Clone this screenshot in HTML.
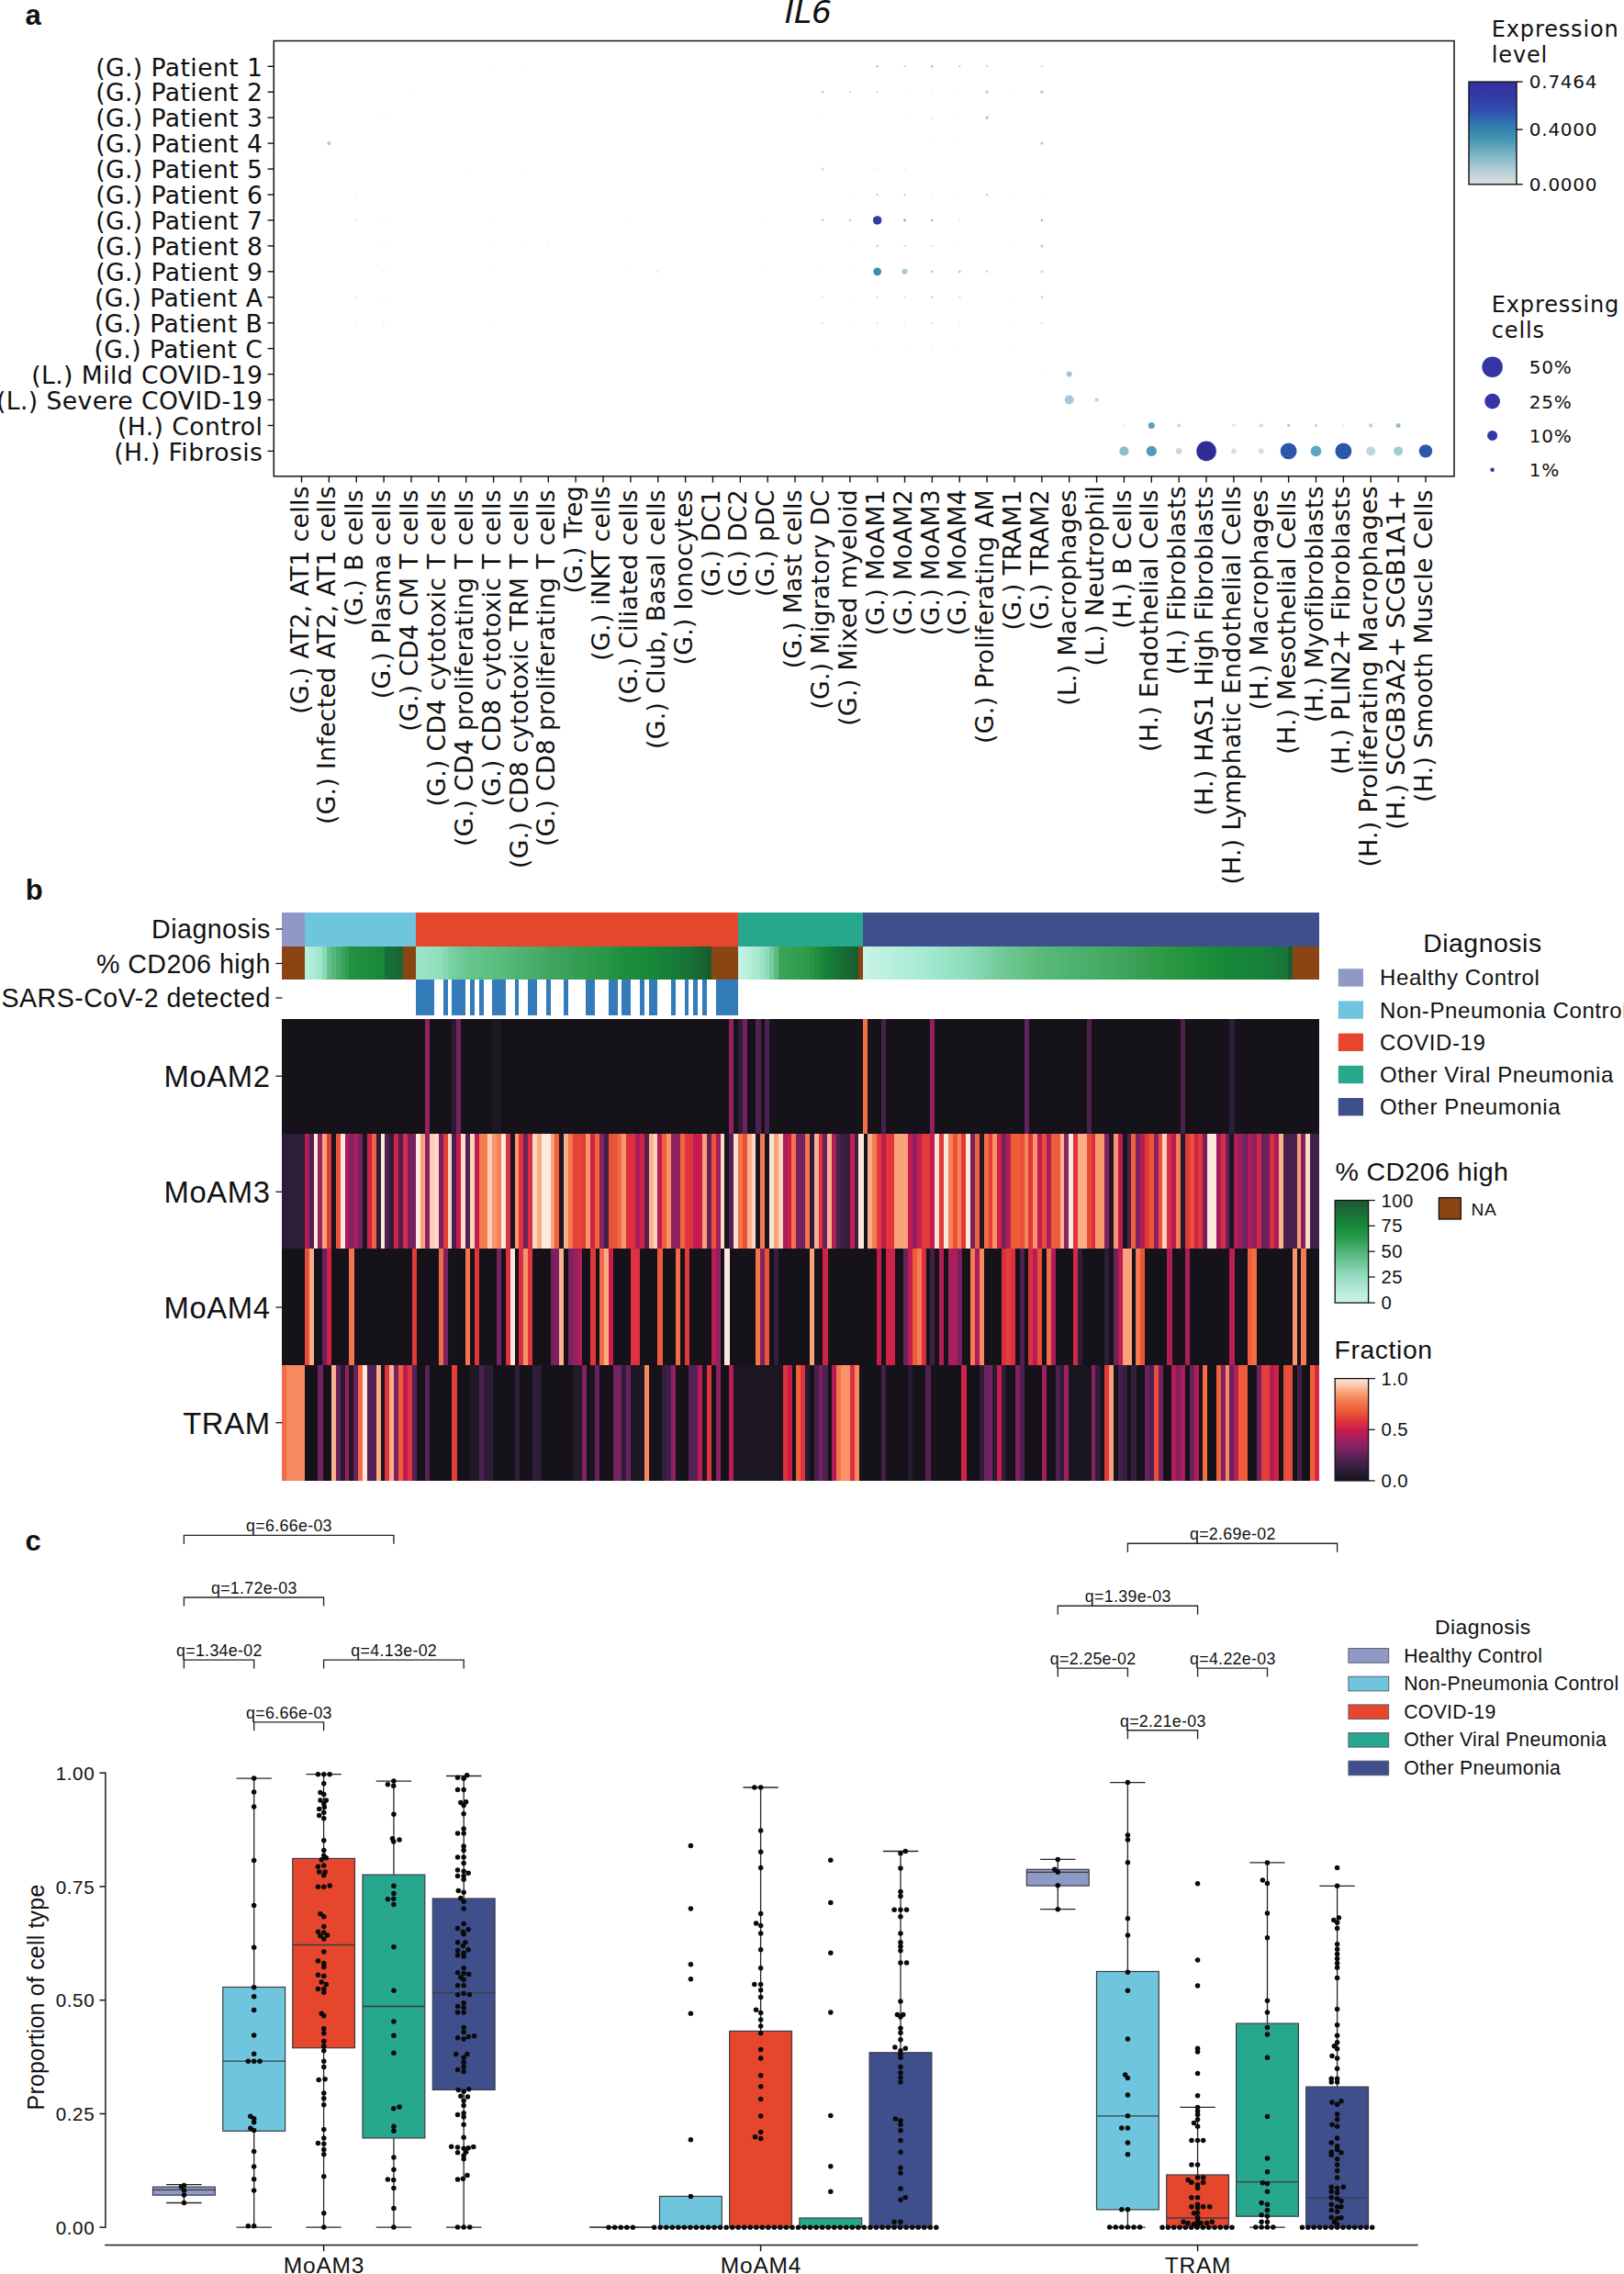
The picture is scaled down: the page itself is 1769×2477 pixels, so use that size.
<!DOCTYPE html>
<html><head><meta charset="utf-8"><title>Figure</title>
<style>
html,body{margin:0;padding:0;background:#fff;}
svg{display:block;}
text{fill:#111;}
</style></head><body>
<svg width="1769" height="2477" viewBox="0 0 1769 2477">
<rect x="0" y="0" width="1769" height="2477" fill="#ffffff"/>
<text x="27.50" y="26.60" font-size="31" font-family="Liberation Sans, Arial, sans-serif" text-anchor="start" font-weight="bold">a</text>
<text x="880.40" y="24.70" font-size="34.5" font-family="DejaVu Sans, Liberation Sans, sans-serif" text-anchor="middle" font-style="italic">IL6</text>
<rect x="298.3" y="44.5" width="1285.7" height="474.29999999999995" fill="none" stroke="#111" stroke-width="1.5"/>
<line x1="291.50" y1="72.30" x2="298.30" y2="72.30" stroke="#111" stroke-width="1.4" />
<text x="286.30" y="82.50" font-size="26.6" font-family="DejaVu Sans, Liberation Sans, sans-serif" text-anchor="end" letter-spacing="0.42">(G.) Patient 1</text>
<line x1="291.50" y1="100.24" x2="298.30" y2="100.24" stroke="#111" stroke-width="1.4" />
<text x="286.30" y="110.44" font-size="26.6" font-family="DejaVu Sans, Liberation Sans, sans-serif" text-anchor="end" letter-spacing="0.42">(G.) Patient 2</text>
<line x1="291.50" y1="128.18" x2="298.30" y2="128.18" stroke="#111" stroke-width="1.4" />
<text x="286.30" y="138.38" font-size="26.6" font-family="DejaVu Sans, Liberation Sans, sans-serif" text-anchor="end" letter-spacing="0.42">(G.) Patient 3</text>
<line x1="291.50" y1="156.12" x2="298.30" y2="156.12" stroke="#111" stroke-width="1.4" />
<text x="286.30" y="166.32" font-size="26.6" font-family="DejaVu Sans, Liberation Sans, sans-serif" text-anchor="end" letter-spacing="0.42">(G.) Patient 4</text>
<line x1="291.50" y1="184.06" x2="298.30" y2="184.06" stroke="#111" stroke-width="1.4" />
<text x="286.30" y="194.26" font-size="26.6" font-family="DejaVu Sans, Liberation Sans, sans-serif" text-anchor="end" letter-spacing="0.42">(G.) Patient 5</text>
<line x1="291.50" y1="212.00" x2="298.30" y2="212.00" stroke="#111" stroke-width="1.4" />
<text x="286.30" y="222.20" font-size="26.6" font-family="DejaVu Sans, Liberation Sans, sans-serif" text-anchor="end" letter-spacing="0.42">(G.) Patient 6</text>
<line x1="291.50" y1="239.94" x2="298.30" y2="239.94" stroke="#111" stroke-width="1.4" />
<text x="286.30" y="250.14" font-size="26.6" font-family="DejaVu Sans, Liberation Sans, sans-serif" text-anchor="end" letter-spacing="0.42">(G.) Patient 7</text>
<line x1="291.50" y1="267.88" x2="298.30" y2="267.88" stroke="#111" stroke-width="1.4" />
<text x="286.30" y="278.08" font-size="26.6" font-family="DejaVu Sans, Liberation Sans, sans-serif" text-anchor="end" letter-spacing="0.42">(G.) Patient 8</text>
<line x1="291.50" y1="295.82" x2="298.30" y2="295.82" stroke="#111" stroke-width="1.4" />
<text x="286.30" y="306.02" font-size="26.6" font-family="DejaVu Sans, Liberation Sans, sans-serif" text-anchor="end" letter-spacing="0.42">(G.) Patient 9</text>
<line x1="291.50" y1="323.76" x2="298.30" y2="323.76" stroke="#111" stroke-width="1.4" />
<text x="286.30" y="333.96" font-size="26.6" font-family="DejaVu Sans, Liberation Sans, sans-serif" text-anchor="end" letter-spacing="0.42">(G.) Patient A</text>
<line x1="291.50" y1="351.70" x2="298.30" y2="351.70" stroke="#111" stroke-width="1.4" />
<text x="286.30" y="361.90" font-size="26.6" font-family="DejaVu Sans, Liberation Sans, sans-serif" text-anchor="end" letter-spacing="0.42">(G.) Patient B</text>
<line x1="291.50" y1="379.64" x2="298.30" y2="379.64" stroke="#111" stroke-width="1.4" />
<text x="286.30" y="389.84" font-size="26.6" font-family="DejaVu Sans, Liberation Sans, sans-serif" text-anchor="end" letter-spacing="0.42">(G.) Patient C</text>
<line x1="291.50" y1="407.58" x2="298.30" y2="407.58" stroke="#111" stroke-width="1.4" />
<text x="286.30" y="417.78" font-size="26.6" font-family="DejaVu Sans, Liberation Sans, sans-serif" text-anchor="end" letter-spacing="0.42">(L.) Mild COVID-19</text>
<line x1="291.50" y1="435.52" x2="298.30" y2="435.52" stroke="#111" stroke-width="1.4" />
<text x="286.30" y="445.72" font-size="26.6" font-family="DejaVu Sans, Liberation Sans, sans-serif" text-anchor="end" letter-spacing="0.42">(L.) Severe COVID-19</text>
<line x1="291.50" y1="463.46" x2="298.30" y2="463.46" stroke="#111" stroke-width="1.4" />
<text x="286.30" y="473.66" font-size="26.6" font-family="DejaVu Sans, Liberation Sans, sans-serif" text-anchor="end" letter-spacing="0.42">(H.) Control</text>
<line x1="291.50" y1="491.40" x2="298.30" y2="491.40" stroke="#111" stroke-width="1.4" />
<text x="286.30" y="501.60" font-size="26.6" font-family="DejaVu Sans, Liberation Sans, sans-serif" text-anchor="end" letter-spacing="0.42">(H.) Fibrosis</text>
<line x1="328.50" y1="518.80" x2="328.50" y2="525.60" stroke="#111" stroke-width="1.4" />
<text transform="translate(335.60,529.0) rotate(-90)" font-size="26.6" font-family="DejaVu Sans, Liberation Sans, sans-serif" text-anchor="end" letter-spacing="0.36">(G.) AT2, AT1 cells</text>
<line x1="358.37" y1="518.80" x2="358.37" y2="525.60" stroke="#111" stroke-width="1.4" />
<text transform="translate(365.47,529.0) rotate(-90)" font-size="26.6" font-family="DejaVu Sans, Liberation Sans, sans-serif" text-anchor="end" letter-spacing="0.36">(G.) Infected AT2, AT1 cells</text>
<line x1="388.23" y1="518.80" x2="388.23" y2="525.60" stroke="#111" stroke-width="1.4" />
<text transform="translate(395.33,533.0) rotate(-90)" font-size="26.6" font-family="DejaVu Sans, Liberation Sans, sans-serif" text-anchor="end" letter-spacing="0.36">(G.) B cells</text>
<line x1="418.10" y1="518.80" x2="418.10" y2="525.60" stroke="#111" stroke-width="1.4" />
<text transform="translate(425.20,533.0) rotate(-90)" font-size="26.6" font-family="DejaVu Sans, Liberation Sans, sans-serif" text-anchor="end" letter-spacing="0.36">(G.) Plasma cells</text>
<line x1="447.96" y1="518.80" x2="447.96" y2="525.60" stroke="#111" stroke-width="1.4" />
<text transform="translate(455.06,533.0) rotate(-90)" font-size="26.6" font-family="DejaVu Sans, Liberation Sans, sans-serif" text-anchor="end" letter-spacing="0.36">(G.) CD4 CM T cells</text>
<line x1="477.82" y1="518.80" x2="477.82" y2="525.60" stroke="#111" stroke-width="1.4" />
<text transform="translate(484.93,533.0) rotate(-90)" font-size="26.6" font-family="DejaVu Sans, Liberation Sans, sans-serif" text-anchor="end" letter-spacing="0.36">(G.) CD4 cytotoxic T cells</text>
<line x1="507.69" y1="518.80" x2="507.69" y2="525.60" stroke="#111" stroke-width="1.4" />
<text transform="translate(514.79,533.0) rotate(-90)" font-size="26.6" font-family="DejaVu Sans, Liberation Sans, sans-serif" text-anchor="end" letter-spacing="0.36">(G.) CD4 proliferating T cells</text>
<line x1="537.55" y1="518.80" x2="537.55" y2="525.60" stroke="#111" stroke-width="1.4" />
<text transform="translate(544.65,533.0) rotate(-90)" font-size="26.6" font-family="DejaVu Sans, Liberation Sans, sans-serif" text-anchor="end" letter-spacing="0.36">(G.) CD8 cytotoxic T cells</text>
<line x1="567.42" y1="518.80" x2="567.42" y2="525.60" stroke="#111" stroke-width="1.4" />
<text transform="translate(574.52,533.0) rotate(-90)" font-size="26.6" font-family="DejaVu Sans, Liberation Sans, sans-serif" text-anchor="end" letter-spacing="0.36">(G.) CD8 cytotoxic TRM T cells</text>
<line x1="597.28" y1="518.80" x2="597.28" y2="525.60" stroke="#111" stroke-width="1.4" />
<text transform="translate(604.38,533.0) rotate(-90)" font-size="26.6" font-family="DejaVu Sans, Liberation Sans, sans-serif" text-anchor="end" letter-spacing="0.36">(G.) CD8 proliferating T cells</text>
<line x1="627.15" y1="518.80" x2="627.15" y2="525.60" stroke="#111" stroke-width="1.4" />
<text transform="translate(634.25,529.0) rotate(-90)" font-size="26.6" font-family="DejaVu Sans, Liberation Sans, sans-serif" text-anchor="end" letter-spacing="0.36">(G.) Treg</text>
<line x1="657.01" y1="518.80" x2="657.01" y2="525.60" stroke="#111" stroke-width="1.4" />
<text transform="translate(664.12,529.0) rotate(-90)" font-size="26.6" font-family="DejaVu Sans, Liberation Sans, sans-serif" text-anchor="end" letter-spacing="0.36">(G.) iNKT cells</text>
<line x1="686.88" y1="518.80" x2="686.88" y2="525.60" stroke="#111" stroke-width="1.4" />
<text transform="translate(693.98,533.0) rotate(-90)" font-size="26.6" font-family="DejaVu Sans, Liberation Sans, sans-serif" text-anchor="end" letter-spacing="0.36">(G.) Ciliated cells</text>
<line x1="716.75" y1="518.80" x2="716.75" y2="525.60" stroke="#111" stroke-width="1.4" />
<text transform="translate(723.85,533.0) rotate(-90)" font-size="26.6" font-family="DejaVu Sans, Liberation Sans, sans-serif" text-anchor="end" letter-spacing="0.36">(G.) Club, Basal cells</text>
<line x1="746.61" y1="518.80" x2="746.61" y2="525.60" stroke="#111" stroke-width="1.4" />
<text transform="translate(753.71,533.0) rotate(-90)" font-size="26.6" font-family="DejaVu Sans, Liberation Sans, sans-serif" text-anchor="end" letter-spacing="0.36">(G.) Ionocytes</text>
<line x1="776.47" y1="518.80" x2="776.47" y2="525.60" stroke="#111" stroke-width="1.4" />
<text transform="translate(783.57,533.0) rotate(-90)" font-size="26.6" font-family="DejaVu Sans, Liberation Sans, sans-serif" text-anchor="end" letter-spacing="0.36">(G.) DC1</text>
<line x1="806.34" y1="518.80" x2="806.34" y2="525.60" stroke="#111" stroke-width="1.4" />
<text transform="translate(813.44,533.0) rotate(-90)" font-size="26.6" font-family="DejaVu Sans, Liberation Sans, sans-serif" text-anchor="end" letter-spacing="0.36">(G.) DC2</text>
<line x1="836.20" y1="518.80" x2="836.20" y2="525.60" stroke="#111" stroke-width="1.4" />
<text transform="translate(843.30,533.0) rotate(-90)" font-size="26.6" font-family="DejaVu Sans, Liberation Sans, sans-serif" text-anchor="end" letter-spacing="0.36">(G.) pDC</text>
<line x1="866.07" y1="518.80" x2="866.07" y2="525.60" stroke="#111" stroke-width="1.4" />
<text transform="translate(873.17,533.0) rotate(-90)" font-size="26.6" font-family="DejaVu Sans, Liberation Sans, sans-serif" text-anchor="end" letter-spacing="0.36">(G.) Mast cells</text>
<line x1="895.93" y1="518.80" x2="895.93" y2="525.60" stroke="#111" stroke-width="1.4" />
<text transform="translate(903.03,533.0) rotate(-90)" font-size="26.6" font-family="DejaVu Sans, Liberation Sans, sans-serif" text-anchor="end" letter-spacing="0.36">(G.) Migratory DC</text>
<line x1="925.80" y1="518.80" x2="925.80" y2="525.60" stroke="#111" stroke-width="1.4" />
<text transform="translate(932.90,533.0) rotate(-90)" font-size="26.6" font-family="DejaVu Sans, Liberation Sans, sans-serif" text-anchor="end" letter-spacing="0.36">(G.) Mixed myeloid</text>
<line x1="955.66" y1="518.80" x2="955.66" y2="525.60" stroke="#111" stroke-width="1.4" />
<text transform="translate(962.76,533.0) rotate(-90)" font-size="26.6" font-family="DejaVu Sans, Liberation Sans, sans-serif" text-anchor="end" letter-spacing="0.36">(G.) MoAM1</text>
<line x1="985.53" y1="518.80" x2="985.53" y2="525.60" stroke="#111" stroke-width="1.4" />
<text transform="translate(992.63,533.0) rotate(-90)" font-size="26.6" font-family="DejaVu Sans, Liberation Sans, sans-serif" text-anchor="end" letter-spacing="0.36">(G.) MoAM2</text>
<line x1="1015.39" y1="518.80" x2="1015.39" y2="525.60" stroke="#111" stroke-width="1.4" />
<text transform="translate(1022.50,533.0) rotate(-90)" font-size="26.6" font-family="DejaVu Sans, Liberation Sans, sans-serif" text-anchor="end" letter-spacing="0.36">(G.) MoAM3</text>
<line x1="1045.26" y1="518.80" x2="1045.26" y2="525.60" stroke="#111" stroke-width="1.4" />
<text transform="translate(1052.36,533.0) rotate(-90)" font-size="26.6" font-family="DejaVu Sans, Liberation Sans, sans-serif" text-anchor="end" letter-spacing="0.36">(G.) MoAM4</text>
<line x1="1075.12" y1="518.80" x2="1075.12" y2="525.60" stroke="#111" stroke-width="1.4" />
<text transform="translate(1082.22,533.0) rotate(-90)" font-size="26.6" font-family="DejaVu Sans, Liberation Sans, sans-serif" text-anchor="end" letter-spacing="0.36">(G.) Proliferating AM</text>
<line x1="1104.99" y1="518.80" x2="1104.99" y2="525.60" stroke="#111" stroke-width="1.4" />
<text transform="translate(1112.09,533.0) rotate(-90)" font-size="26.6" font-family="DejaVu Sans, Liberation Sans, sans-serif" text-anchor="end" letter-spacing="0.36">(G.) TRAM1</text>
<line x1="1134.86" y1="518.80" x2="1134.86" y2="525.60" stroke="#111" stroke-width="1.4" />
<text transform="translate(1141.95,533.0) rotate(-90)" font-size="26.6" font-family="DejaVu Sans, Liberation Sans, sans-serif" text-anchor="end" letter-spacing="0.36">(G.) TRAM2</text>
<line x1="1164.72" y1="518.80" x2="1164.72" y2="525.60" stroke="#111" stroke-width="1.4" />
<text transform="translate(1171.82,533.0) rotate(-90)" font-size="26.6" font-family="DejaVu Sans, Liberation Sans, sans-serif" text-anchor="end" letter-spacing="0.36">(L.) Macrophages</text>
<line x1="1194.59" y1="518.80" x2="1194.59" y2="525.60" stroke="#111" stroke-width="1.4" />
<text transform="translate(1201.68,529.0) rotate(-90)" font-size="26.6" font-family="DejaVu Sans, Liberation Sans, sans-serif" text-anchor="end" letter-spacing="0.36">(L.) Neutrophil</text>
<line x1="1224.45" y1="518.80" x2="1224.45" y2="525.60" stroke="#111" stroke-width="1.4" />
<text transform="translate(1231.55,533.0) rotate(-90)" font-size="26.6" font-family="DejaVu Sans, Liberation Sans, sans-serif" text-anchor="end" letter-spacing="0.36">(H.) B Cells</text>
<line x1="1254.32" y1="518.80" x2="1254.32" y2="525.60" stroke="#111" stroke-width="1.4" />
<text transform="translate(1261.41,533.0) rotate(-90)" font-size="26.6" font-family="DejaVu Sans, Liberation Sans, sans-serif" text-anchor="end" letter-spacing="0.36">(H.) Endothelial Cells</text>
<line x1="1284.18" y1="518.80" x2="1284.18" y2="525.60" stroke="#111" stroke-width="1.4" />
<text transform="translate(1291.28,529.0) rotate(-90)" font-size="26.6" font-family="DejaVu Sans, Liberation Sans, sans-serif" text-anchor="end" letter-spacing="0.36">(H.) Fibroblasts</text>
<line x1="1314.05" y1="518.80" x2="1314.05" y2="525.60" stroke="#111" stroke-width="1.4" />
<text transform="translate(1321.14,529.0) rotate(-90)" font-size="26.6" font-family="DejaVu Sans, Liberation Sans, sans-serif" text-anchor="end" letter-spacing="0.36">(H.) HAS1 High Fibroblasts</text>
<line x1="1343.91" y1="518.80" x2="1343.91" y2="525.60" stroke="#111" stroke-width="1.4" />
<text transform="translate(1351.01,529.0) rotate(-90)" font-size="26.6" font-family="DejaVu Sans, Liberation Sans, sans-serif" text-anchor="end" letter-spacing="0.36">(H.) Lymphatic Endothelial Cells</text>
<line x1="1373.77" y1="518.80" x2="1373.77" y2="525.60" stroke="#111" stroke-width="1.4" />
<text transform="translate(1380.87,533.0) rotate(-90)" font-size="26.6" font-family="DejaVu Sans, Liberation Sans, sans-serif" text-anchor="end" letter-spacing="0.36">(H.) Macrophages</text>
<line x1="1403.64" y1="518.80" x2="1403.64" y2="525.60" stroke="#111" stroke-width="1.4" />
<text transform="translate(1410.74,533.0) rotate(-90)" font-size="26.6" font-family="DejaVu Sans, Liberation Sans, sans-serif" text-anchor="end" letter-spacing="0.36">(H.) Mesothelial Cells</text>
<line x1="1433.50" y1="518.80" x2="1433.50" y2="525.60" stroke="#111" stroke-width="1.4" />
<text transform="translate(1440.60,529.0) rotate(-90)" font-size="26.6" font-family="DejaVu Sans, Liberation Sans, sans-serif" text-anchor="end" letter-spacing="0.36">(H.) Myofibroblasts</text>
<line x1="1463.37" y1="518.80" x2="1463.37" y2="525.60" stroke="#111" stroke-width="1.4" />
<text transform="translate(1470.47,529.0) rotate(-90)" font-size="26.6" font-family="DejaVu Sans, Liberation Sans, sans-serif" text-anchor="end" letter-spacing="0.36">(H.) PLIN2+ Fibroblasts</text>
<line x1="1493.23" y1="518.80" x2="1493.23" y2="525.60" stroke="#111" stroke-width="1.4" />
<text transform="translate(1500.33,529.0) rotate(-90)" font-size="26.6" font-family="DejaVu Sans, Liberation Sans, sans-serif" text-anchor="end" letter-spacing="0.36">(H.) Proliferating Macrophages</text>
<line x1="1523.10" y1="518.80" x2="1523.10" y2="525.60" stroke="#111" stroke-width="1.4" />
<text transform="translate(1530.20,533.0) rotate(-90)" font-size="26.6" font-family="DejaVu Sans, Liberation Sans, sans-serif" text-anchor="end" letter-spacing="0.36">(H.) SCGB3A2+ SCGB1A1+</text>
<line x1="1552.96" y1="518.80" x2="1552.96" y2="525.60" stroke="#111" stroke-width="1.4" />
<text transform="translate(1560.06,533.0) rotate(-90)" font-size="26.6" font-family="DejaVu Sans, Liberation Sans, sans-serif" text-anchor="end" letter-spacing="0.36">(H.) Smooth Muscle Cells</text>
<circle cx="537.55" cy="72.30" r="0.90" fill="#eceeee" />
<circle cx="567.42" cy="72.30" r="0.90" fill="#eceeee" />
<circle cx="955.66" cy="72.30" r="1.20" fill="#b4bcbc" />
<circle cx="985.53" cy="72.30" r="1.00" fill="#c2c8c8" />
<circle cx="1015.39" cy="72.30" r="1.50" fill="#c2caca" />
<circle cx="1045.26" cy="72.30" r="1.30" fill="#d2d7d7" />
<circle cx="1075.12" cy="72.30" r="1.30" fill="#d6dbdb" />
<circle cx="1134.86" cy="72.30" r="1.30" fill="#d9dddd" />
<circle cx="447.96" cy="100.24" r="0.90" fill="#eceeee" />
<circle cx="895.93" cy="100.24" r="1.30" fill="#c2c6c6" />
<circle cx="925.80" cy="100.24" r="1.00" fill="#c2c7c7" />
<circle cx="955.66" cy="100.24" r="1.00" fill="#c6cbcb" />
<circle cx="985.53" cy="100.24" r="0.80" fill="#e1e5e5" />
<circle cx="1015.39" cy="100.24" r="0.80" fill="#dee1e1" />
<circle cx="1045.26" cy="100.24" r="0.80" fill="#e1e5e5" />
<circle cx="1075.12" cy="100.24" r="1.50" fill="#bdc7c7" />
<circle cx="1104.99" cy="100.24" r="0.70" fill="#d9dddd" />
<circle cx="1134.86" cy="100.24" r="1.80" fill="#c1c9c9" />
<circle cx="418.10" cy="128.18" r="0.90" fill="#eceeee" />
<circle cx="895.93" cy="128.18" r="0.80" fill="#e1e5e5" />
<circle cx="985.53" cy="128.18" r="0.80" fill="#e5e9e9" />
<circle cx="1015.39" cy="128.18" r="1.00" fill="#dee3e3" />
<circle cx="1045.26" cy="128.18" r="0.80" fill="#dee1e1" />
<circle cx="1075.12" cy="128.18" r="1.60" fill="#9ec4c0" />
<circle cx="1015.39" cy="156.12" r="0.80" fill="#e8eaea" />
<circle cx="1045.26" cy="156.12" r="0.70" fill="#eaecec" />
<circle cx="1134.86" cy="156.12" r="1.50" fill="#c1c7c7" />
<circle cx="507.69" cy="184.06" r="0.90" fill="#eceeee" />
<circle cx="567.42" cy="184.06" r="0.90" fill="#eceeee" />
<circle cx="895.93" cy="184.06" r="1.50" fill="#d9dddd" />
<circle cx="955.66" cy="184.06" r="0.80" fill="#d1d5d5" />
<circle cx="985.53" cy="184.06" r="0.80" fill="#d9dddd" />
<circle cx="388.23" cy="212.00" r="0.90" fill="#e4e8e8" />
<circle cx="925.80" cy="212.00" r="0.70" fill="#e1e5e5" />
<circle cx="955.66" cy="212.00" r="1.20" fill="#c9cdcd" />
<circle cx="985.53" cy="212.00" r="1.00" fill="#b2b6ba" />
<circle cx="1015.39" cy="212.00" r="0.80" fill="#e1e5e5" />
<circle cx="1045.26" cy="212.00" r="0.70" fill="#e4e8e8" />
<circle cx="1075.12" cy="212.00" r="1.50" fill="#d1d7d7" />
<circle cx="1104.99" cy="212.00" r="0.60" fill="#e6eaea" />
<circle cx="1134.86" cy="212.00" r="0.60" fill="#e6eaea" />
<circle cx="388.23" cy="239.94" r="1.00" fill="#dfe3e3" />
<circle cx="418.10" cy="239.94" r="0.90" fill="#e8ecec" />
<circle cx="537.55" cy="239.94" r="0.90" fill="#eceeee" />
<circle cx="686.88" cy="239.94" r="0.90" fill="#e8ecec" />
<circle cx="836.20" cy="239.94" r="0.90" fill="#e8ecec" />
<circle cx="895.93" cy="239.94" r="1.60" fill="#d1d5d5" />
<circle cx="925.80" cy="239.94" r="1.50" fill="#d1d5d5" />
<circle cx="985.53" cy="239.94" r="1.40" fill="#9ba1a5" />
<circle cx="1015.39" cy="239.94" r="1.00" fill="#838b93" />
<circle cx="1045.26" cy="239.94" r="0.80" fill="#d9dddd" />
<circle cx="1134.86" cy="239.94" r="1.00" fill="#747c84" />
<circle cx="418.10" cy="267.88" r="0.90" fill="#eceeee" />
<circle cx="537.55" cy="267.88" r="0.90" fill="#eceeee" />
<circle cx="567.42" cy="267.88" r="0.90" fill="#e8ecec" />
<circle cx="597.28" cy="267.88" r="0.90" fill="#e8ecec" />
<circle cx="925.80" cy="267.88" r="0.70" fill="#e4e8e8" />
<circle cx="955.66" cy="267.88" r="1.30" fill="#c9cdcd" />
<circle cx="985.53" cy="267.88" r="1.00" fill="#c9cdcd" />
<circle cx="1015.39" cy="267.88" r="1.20" fill="#dee1e1" />
<circle cx="1045.26" cy="267.88" r="0.70" fill="#e4e8e8" />
<circle cx="1104.99" cy="267.88" r="0.60" fill="#e8ecec" />
<circle cx="1134.86" cy="267.88" r="1.80" fill="#d1d5d5" />
<circle cx="418.10" cy="295.82" r="1.00" fill="#dfe3e3" />
<circle cx="537.55" cy="295.82" r="0.90" fill="#eceeee" />
<circle cx="686.88" cy="295.82" r="0.90" fill="#e8ecec" />
<circle cx="716.75" cy="295.82" r="1.00" fill="#dde1e1" />
<circle cx="836.20" cy="295.82" r="0.90" fill="#e8ecec" />
<circle cx="895.93" cy="295.82" r="0.80" fill="#e5e9e9" />
<circle cx="925.80" cy="295.82" r="0.60" fill="#e8ecec" />
<circle cx="1015.39" cy="295.82" r="1.40" fill="#c1c7c7" />
<circle cx="1045.26" cy="295.82" r="1.50" fill="#c5cbcb" />
<circle cx="1075.12" cy="295.82" r="1.30" fill="#cdd3d3" />
<circle cx="1134.86" cy="295.82" r="1.50" fill="#d1d7d7" />
<circle cx="388.23" cy="323.76" r="0.90" fill="#e4e8e8" />
<circle cx="418.10" cy="323.76" r="0.90" fill="#e8ecec" />
<circle cx="895.93" cy="323.76" r="1.00" fill="#d9dddd" />
<circle cx="925.80" cy="323.76" r="0.70" fill="#e4e8e8" />
<circle cx="955.66" cy="323.76" r="1.00" fill="#d1d5d5" />
<circle cx="985.53" cy="323.76" r="1.00" fill="#d5d9d9" />
<circle cx="1015.39" cy="323.76" r="1.20" fill="#cdd1d1" />
<circle cx="1045.26" cy="323.76" r="1.20" fill="#d5d9d9" />
<circle cx="1104.99" cy="323.76" r="0.60" fill="#e8ecec" />
<circle cx="1134.86" cy="323.76" r="1.30" fill="#cdd1d1" />
<circle cx="388.23" cy="351.70" r="0.90" fill="#e8ecec" />
<circle cx="418.10" cy="351.70" r="1.00" fill="#dfe3e3" />
<circle cx="537.55" cy="351.70" r="0.90" fill="#eceeee" />
<circle cx="895.93" cy="351.70" r="1.00" fill="#dde1e1" />
<circle cx="925.80" cy="351.70" r="0.80" fill="#e4e8e8" />
<circle cx="955.66" cy="351.70" r="1.00" fill="#d9dddd" />
<circle cx="985.53" cy="351.70" r="0.90" fill="#e1e5e5" />
<circle cx="1015.39" cy="351.70" r="1.00" fill="#d9dddd" />
<circle cx="1045.26" cy="351.70" r="0.90" fill="#e1e5e5" />
<circle cx="1104.99" cy="351.70" r="0.70" fill="#e8ecec" />
<circle cx="1134.86" cy="351.70" r="1.00" fill="#d9dddd" />
<circle cx="955.66" cy="379.64" r="0.80" fill="#e6eaea" />
<circle cx="985.53" cy="379.64" r="0.70" fill="#eaeded" />
<circle cx="1015.39" cy="379.64" r="0.80" fill="#e6eaea" />
<circle cx="1045.26" cy="379.64" r="0.70" fill="#eaeded" />
<circle cx="1104.99" cy="379.64" r="0.70" fill="#eaeded" />
<circle cx="1104.99" cy="407.58" r="0.60" fill="#eceeee" />
<circle cx="1134.86" cy="407.58" r="0.70" fill="#e8ecec" />
<circle cx="955.66" cy="239.94" r="4.80" fill="#2a3f9e" />
<circle cx="955.66" cy="295.82" r="4.40" fill="#3a8fb0" />
<circle cx="985.53" cy="295.82" r="3.10" fill="#a8cdd3" />
<circle cx="1224.45" cy="491.40" r="5.10" fill="#8fbdd0" />
<circle cx="1254.32" cy="491.40" r="5.60" fill="#4c9bb8" />
<circle cx="1284.18" cy="491.40" r="3.30" fill="#c5d8dc" />
<circle cx="1314.05" cy="491.40" r="10.80" fill="#2e2f96" />
<circle cx="1343.91" cy="491.40" r="2.80" fill="#d5dedf" />
<circle cx="1373.77" cy="491.40" r="2.80" fill="#d5dedf" />
<circle cx="1403.64" cy="491.40" r="8.90" fill="#2b57ad" />
<circle cx="1433.50" cy="491.40" r="5.80" fill="#5ba7c0" />
<circle cx="1463.37" cy="491.40" r="8.90" fill="#2b57ad" />
<circle cx="1493.23" cy="491.40" r="5.00" fill="#bdd6db" />
<circle cx="1523.10" cy="491.40" r="5.00" fill="#a5c9d3" />
<circle cx="1552.96" cy="491.40" r="7.20" fill="#2b57ad" />
<circle cx="1224.45" cy="463.46" r="1.00" fill="#c8d4d6" />
<circle cx="1254.32" cy="463.46" r="3.50" fill="#5ba0bc" />
<circle cx="1284.18" cy="463.46" r="2.00" fill="#c5d5d8" />
<circle cx="1343.91" cy="463.46" r="1.50" fill="#dde3e4" />
<circle cx="1373.77" cy="463.46" r="2.00" fill="#d0d8da" />
<circle cx="1403.64" cy="463.46" r="1.60" fill="#b0c0c5" />
<circle cx="1433.50" cy="463.46" r="1.50" fill="#c0cccf" />
<circle cx="1463.37" cy="463.46" r="1.00" fill="#d5dcdd" />
<circle cx="1493.23" cy="463.46" r="2.20" fill="#c0d0d0" />
<circle cx="1523.10" cy="463.46" r="2.50" fill="#8fbfc5" />
<circle cx="1164.72" cy="435.52" r="5.00" fill="#a9c9d6" />
<circle cx="1194.59" cy="435.52" r="2.30" fill="#c8d5d8" />
<circle cx="1164.72" cy="407.58" r="3.00" fill="#a3c4d8" />
<circle cx="358.37" cy="156.12" r="2.00" fill="#b5c8ca" />
<text x="1624.80" y="40.20" font-size="24" font-family="DejaVu Sans, Liberation Sans, sans-serif" text-anchor="start" letter-spacing="0.85">Expression</text>
<text x="1624.80" y="68.20" font-size="24" font-family="DejaVu Sans, Liberation Sans, sans-serif" text-anchor="start" letter-spacing="0.85">level</text>
<defs><linearGradient id="cbA" x1="0" y1="0" x2="0" y2="1"><stop offset="0" stop-color="#3233a0"/><stop offset="0.12" stop-color="#3438a4"/><stop offset="0.28" stop-color="#3050b0"/><stop offset="0.46" stop-color="#3283b0"/><stop offset="0.56" stop-color="#4496b0"/><stop offset="0.72" stop-color="#7fb5c6"/><stop offset="0.86" stop-color="#b0cdd4"/><stop offset="1" stop-color="#dcdfe0"/></linearGradient></defs>
<rect x="1600" y="89.1" width="52" height="111.7" fill="url(#cbA)" stroke="#111" stroke-width="1.4"/>
<line x1="1652.00" y1="89.10" x2="1658.60" y2="89.10" stroke="#111" stroke-width="1.4" />
<text x="1665.80" y="96.40" font-size="20" font-family="DejaVu Sans, Liberation Sans, sans-serif" text-anchor="start" letter-spacing="0.75">0.7464</text>
<line x1="1652.00" y1="141.10" x2="1658.60" y2="141.10" stroke="#111" stroke-width="1.4" />
<text x="1665.80" y="148.40" font-size="20" font-family="DejaVu Sans, Liberation Sans, sans-serif" text-anchor="start" letter-spacing="0.75">0.4000</text>
<line x1="1652.00" y1="200.80" x2="1658.60" y2="200.80" stroke="#111" stroke-width="1.4" />
<text x="1665.80" y="208.10" font-size="20" font-family="DejaVu Sans, Liberation Sans, sans-serif" text-anchor="start" letter-spacing="0.75">0.0000</text>
<text x="1624.80" y="339.90" font-size="24" font-family="DejaVu Sans, Liberation Sans, sans-serif" text-anchor="start" letter-spacing="0.85">Expressing</text>
<text x="1624.80" y="367.60" font-size="24" font-family="DejaVu Sans, Liberation Sans, sans-serif" text-anchor="start" letter-spacing="0.85">cells</text>
<circle cx="1625.60" cy="399.70" r="11.30" fill="#3535a5" />
<text x="1665.80" y="407.30" font-size="20" font-family="DejaVu Sans, Liberation Sans, sans-serif" text-anchor="start" letter-spacing="0.75">50%</text>
<circle cx="1625.60" cy="437.10" r="8.40" fill="#3535a5" />
<text x="1665.80" y="444.70" font-size="20" font-family="DejaVu Sans, Liberation Sans, sans-serif" text-anchor="start" letter-spacing="0.75">25%</text>
<circle cx="1625.60" cy="474.40" r="5.50" fill="#3535a5" />
<text x="1665.80" y="482.00" font-size="20" font-family="DejaVu Sans, Liberation Sans, sans-serif" text-anchor="start" letter-spacing="0.75">10%</text>
<circle cx="1625.60" cy="511.80" r="2.30" fill="#3535a5" />
<text x="1665.80" y="519.40" font-size="20" font-family="DejaVu Sans, Liberation Sans, sans-serif" text-anchor="start" letter-spacing="0.75">1%</text>
<g shape-rendering="crispEdges">
<rect x="307.45" y="1109.70" width="1129.40" height="124.80" fill="#151319" />
<rect x="463.23" y="1109.70" width="5.17" height="124.80" fill="#972060" />
<rect x="492.44" y="1109.70" width="5.17" height="124.80" fill="#281b32" />
<rect x="497.31" y="1109.70" width="5.17" height="124.80" fill="#742260" />
<rect x="536.25" y="1109.70" width="10.04" height="124.80" fill="#1e1725" />
<rect x="794.26" y="1109.70" width="5.17" height="124.80" fill="#932160" />
<rect x="804.00" y="1109.70" width="5.17" height="124.80" fill="#2e1d38" />
<rect x="808.86" y="1109.70" width="5.17" height="124.80" fill="#742260" />
<rect x="823.47" y="1109.70" width="5.17" height="124.80" fill="#542154" />
<rect x="833.21" y="1109.70" width="5.17" height="124.80" fill="#4c2150" />
<rect x="940.30" y="1109.70" width="5.17" height="124.80" fill="#f26d45" />
<rect x="959.78" y="1109.70" width="5.17" height="124.80" fill="#46214c" />
<rect x="1013.32" y="1109.70" width="5.17" height="124.80" fill="#932160" />
<rect x="1115.56" y="1109.70" width="5.17" height="124.80" fill="#64225b" />
<rect x="1183.71" y="1109.70" width="5.17" height="124.80" fill="#4c2150" />
<rect x="1285.94" y="1109.70" width="5.17" height="124.80" fill="#4c2150" />
<rect x="1339.49" y="1109.70" width="5.17" height="124.80" fill="#2e1d38" />
<rect x="307.45" y="1234.50" width="1129.40" height="125.50" fill="#151319" />
<rect x="307.45" y="1234.50" width="24.64" height="125.50" fill="#2e1d38" />
<rect x="331.79" y="1234.50" width="5.17" height="125.50" fill="#b61c56" />
<rect x="336.66" y="1234.50" width="5.17" height="125.50" fill="#4c2150" />
<rect x="341.53" y="1234.50" width="5.17" height="125.50" fill="#fde8dc" />
<rect x="346.39" y="1234.50" width="5.17" height="125.50" fill="#972060" />
<rect x="351.26" y="1234.50" width="5.17" height="125.50" fill="#f8a17a" />
<rect x="356.13" y="1234.50" width="5.17" height="125.50" fill="#e23a3a" />
<rect x="361.00" y="1234.50" width="5.17" height="125.50" fill="#19151f" />
<rect x="365.87" y="1234.50" width="5.17" height="125.50" fill="#ea533a" />
<rect x="370.74" y="1234.50" width="5.17" height="125.50" fill="#fde8dc" />
<rect x="375.60" y="1234.50" width="5.17" height="125.50" fill="#a91e5b" />
<rect x="380.47" y="1234.50" width="5.17" height="125.50" fill="#8a2162" />
<rect x="385.34" y="1234.50" width="5.17" height="125.50" fill="#a91e5b" />
<rect x="390.21" y="1234.50" width="5.17" height="125.50" fill="#742260" />
<rect x="395.08" y="1234.50" width="5.17" height="125.50" fill="#1c1622" />
<rect x="399.94" y="1234.50" width="5.17" height="125.50" fill="#d02248" />
<rect x="404.81" y="1234.50" width="5.17" height="125.50" fill="#ef633b" />
<rect x="409.68" y="1234.50" width="5.17" height="125.50" fill="#2e1d38" />
<rect x="414.55" y="1234.50" width="5.17" height="125.50" fill="#fde8dc" />
<rect x="419.42" y="1234.50" width="5.17" height="125.50" fill="#4c2150" />
<rect x="424.28" y="1234.50" width="5.17" height="125.50" fill="#2e1d38" />
<rect x="429.15" y="1234.50" width="5.17" height="125.50" fill="#d02248" />
<rect x="434.02" y="1234.50" width="5.17" height="125.50" fill="#4c2150" />
<rect x="438.89" y="1234.50" width="5.17" height="125.50" fill="#da2c42" />
<rect x="443.76" y="1234.50" width="10.04" height="125.50" fill="#742260" />
<rect x="453.49" y="1234.50" width="5.17" height="125.50" fill="#fde8dc" />
<rect x="458.36" y="1234.50" width="5.17" height="125.50" fill="#f8a17a" />
<rect x="463.23" y="1234.50" width="5.17" height="125.50" fill="#8a2162" />
<rect x="468.10" y="1234.50" width="5.17" height="125.50" fill="#fcd0b8" />
<rect x="472.97" y="1234.50" width="5.17" height="125.50" fill="#fcdac6" />
<rect x="477.83" y="1234.50" width="5.17" height="125.50" fill="#812161" />
<rect x="482.70" y="1234.50" width="5.17" height="125.50" fill="#e33e3a" />
<rect x="487.57" y="1234.50" width="5.17" height="125.50" fill="#fcd5bf" />
<rect x="492.44" y="1234.50" width="5.17" height="125.50" fill="#46214c" />
<rect x="497.31" y="1234.50" width="5.17" height="125.50" fill="#ca1c4c" />
<rect x="502.17" y="1234.50" width="5.17" height="125.50" fill="#fddece" />
<rect x="507.04" y="1234.50" width="5.17" height="125.50" fill="#542154" />
<rect x="511.91" y="1234.50" width="5.17" height="125.50" fill="#fcd5bf" />
<rect x="516.78" y="1234.50" width="5.17" height="125.50" fill="#c21c50" />
<rect x="521.65" y="1234.50" width="10.04" height="125.50" fill="#f57c52" />
<rect x="531.38" y="1234.50" width="5.17" height="125.50" fill="#fcd0b8" />
<rect x="536.25" y="1234.50" width="5.17" height="125.50" fill="#f8976e" />
<rect x="541.12" y="1234.50" width="5.17" height="125.50" fill="#f58055" />
<rect x="545.99" y="1234.50" width="5.17" height="125.50" fill="#fde8dc" />
<rect x="550.86" y="1234.50" width="5.17" height="125.50" fill="#dd323f" />
<rect x="555.72" y="1234.50" width="5.17" height="125.50" fill="#19151f" />
<rect x="560.59" y="1234.50" width="5.17" height="125.50" fill="#f8976e" />
<rect x="565.46" y="1234.50" width="5.17" height="125.50" fill="#df343d" />
<rect x="570.33" y="1234.50" width="5.17" height="125.50" fill="#68225c" />
<rect x="575.20" y="1234.50" width="5.17" height="125.50" fill="#da2c42" />
<rect x="580.06" y="1234.50" width="5.17" height="125.50" fill="#fcd5bf" />
<rect x="584.93" y="1234.50" width="5.17" height="125.50" fill="#f9ac87" />
<rect x="589.80" y="1234.50" width="10.04" height="125.50" fill="#fde8dc" />
<rect x="599.54" y="1234.50" width="5.17" height="125.50" fill="#f8a17a" />
<rect x="604.40" y="1234.50" width="5.17" height="125.50" fill="#ee6038" />
<rect x="609.27" y="1234.50" width="5.17" height="125.50" fill="#1c1622" />
<rect x="614.14" y="1234.50" width="5.17" height="125.50" fill="#f9ac87" />
<rect x="619.01" y="1234.50" width="5.17" height="125.50" fill="#f4744b" />
<rect x="623.88" y="1234.50" width="10.04" height="125.50" fill="#e5433a" />
<rect x="633.61" y="1234.50" width="5.17" height="125.50" fill="#e23a3a" />
<rect x="638.48" y="1234.50" width="5.17" height="125.50" fill="#f8976e" />
<rect x="643.35" y="1234.50" width="5.17" height="125.50" fill="#d02248" />
<rect x="648.22" y="1234.50" width="5.17" height="125.50" fill="#ef633b" />
<rect x="653.09" y="1234.50" width="5.17" height="125.50" fill="#8e2161" />
<rect x="657.95" y="1234.50" width="5.17" height="125.50" fill="#42204a" />
<rect x="662.82" y="1234.50" width="5.17" height="125.50" fill="#e9503a" />
<rect x="667.69" y="1234.50" width="5.17" height="125.50" fill="#eb5639" />
<rect x="672.56" y="1234.50" width="5.17" height="125.50" fill="#f26d45" />
<rect x="677.43" y="1234.50" width="5.17" height="125.50" fill="#f8976e" />
<rect x="682.29" y="1234.50" width="10.04" height="125.50" fill="#dc2f40" />
<rect x="692.03" y="1234.50" width="5.17" height="125.50" fill="#a91e5b" />
<rect x="696.90" y="1234.50" width="5.17" height="125.50" fill="#d02248" />
<rect x="701.77" y="1234.50" width="5.17" height="125.50" fill="#542154" />
<rect x="706.63" y="1234.50" width="5.17" height="125.50" fill="#fab18e" />
<rect x="711.50" y="1234.50" width="5.17" height="125.50" fill="#fcd5bf" />
<rect x="716.37" y="1234.50" width="5.17" height="125.50" fill="#ba1c54" />
<rect x="721.24" y="1234.50" width="5.17" height="125.50" fill="#ee6038" />
<rect x="726.11" y="1234.50" width="5.17" height="125.50" fill="#f79269" />
<rect x="730.97" y="1234.50" width="10.04" height="125.50" fill="#8e2161" />
<rect x="740.71" y="1234.50" width="5.17" height="125.50" fill="#f0663e" />
<rect x="745.58" y="1234.50" width="10.04" height="125.50" fill="#df343d" />
<rect x="755.32" y="1234.50" width="5.17" height="125.50" fill="#be1c52" />
<rect x="760.18" y="1234.50" width="5.17" height="125.50" fill="#ca1c4c" />
<rect x="765.05" y="1234.50" width="5.17" height="125.50" fill="#f8a17a" />
<rect x="769.92" y="1234.50" width="5.17" height="125.50" fill="#68225c" />
<rect x="774.79" y="1234.50" width="5.17" height="125.50" fill="#ea533a" />
<rect x="779.66" y="1234.50" width="5.17" height="125.50" fill="#a0205e" />
<rect x="784.52" y="1234.50" width="5.17" height="125.50" fill="#fcdac6" />
<rect x="789.39" y="1234.50" width="5.17" height="125.50" fill="#19151f" />
<rect x="794.26" y="1234.50" width="5.17" height="125.50" fill="#542154" />
<rect x="799.13" y="1234.50" width="5.17" height="125.50" fill="#fddece" />
<rect x="804.00" y="1234.50" width="5.17" height="125.50" fill="#f4744b" />
<rect x="808.86" y="1234.50" width="5.17" height="125.50" fill="#ea533a" />
<rect x="813.73" y="1234.50" width="5.17" height="125.50" fill="#fab18e" />
<rect x="818.60" y="1234.50" width="5.17" height="125.50" fill="#fcdac6" />
<rect x="823.47" y="1234.50" width="5.17" height="125.50" fill="#1c1622" />
<rect x="828.34" y="1234.50" width="5.17" height="125.50" fill="#f57c52" />
<rect x="833.21" y="1234.50" width="5.17" height="125.50" fill="#19151f" />
<rect x="838.07" y="1234.50" width="5.17" height="125.50" fill="#fde3d5" />
<rect x="842.94" y="1234.50" width="5.17" height="125.50" fill="#f8a17a" />
<rect x="847.81" y="1234.50" width="5.17" height="125.50" fill="#fcd5bf" />
<rect x="852.68" y="1234.50" width="5.17" height="125.50" fill="#a91e5b" />
<rect x="857.55" y="1234.50" width="5.17" height="125.50" fill="#ca1c4c" />
<rect x="862.41" y="1234.50" width="5.17" height="125.50" fill="#f4744b" />
<rect x="867.28" y="1234.50" width="10.04" height="125.50" fill="#742260" />
<rect x="877.02" y="1234.50" width="5.17" height="125.50" fill="#f4744b" />
<rect x="881.89" y="1234.50" width="5.17" height="125.50" fill="#2e1d38" />
<rect x="886.75" y="1234.50" width="5.17" height="125.50" fill="#fab18e" />
<rect x="891.62" y="1234.50" width="5.17" height="125.50" fill="#df343d" />
<rect x="896.49" y="1234.50" width="5.17" height="125.50" fill="#68225c" />
<rect x="901.36" y="1234.50" width="5.17" height="125.50" fill="#fab18e" />
<rect x="906.23" y="1234.50" width="5.17" height="125.50" fill="#a91e5b" />
<rect x="911.09" y="1234.50" width="5.17" height="125.50" fill="#46214c" />
<rect x="915.96" y="1234.50" width="5.17" height="125.50" fill="#361f40" />
<rect x="920.83" y="1234.50" width="5.17" height="125.50" fill="#341e3e" />
<rect x="925.70" y="1234.50" width="5.17" height="125.50" fill="#ca1c4c" />
<rect x="930.57" y="1234.50" width="5.17" height="125.50" fill="#3c2046" />
<rect x="935.44" y="1234.50" width="5.17" height="125.50" fill="#fde8dc" />
<rect x="945.17" y="1234.50" width="5.17" height="125.50" fill="#f9ac87" />
<rect x="950.04" y="1234.50" width="5.17" height="125.50" fill="#f57c52" />
<rect x="954.91" y="1234.50" width="5.17" height="125.50" fill="#e23a3a" />
<rect x="959.78" y="1234.50" width="5.17" height="125.50" fill="#be1c52" />
<rect x="964.64" y="1234.50" width="10.04" height="125.50" fill="#e0373c" />
<rect x="974.38" y="1234.50" width="14.90" height="125.50" fill="#f8a17a" />
<rect x="988.98" y="1234.50" width="5.17" height="125.50" fill="#be1c52" />
<rect x="993.85" y="1234.50" width="5.17" height="125.50" fill="#8e2161" />
<rect x="998.72" y="1234.50" width="5.17" height="125.50" fill="#ca1c4c" />
<rect x="1003.59" y="1234.50" width="10.04" height="125.50" fill="#e23a3a" />
<rect x="1013.32" y="1234.50" width="5.17" height="125.50" fill="#be1c52" />
<rect x="1018.19" y="1234.50" width="5.17" height="125.50" fill="#fddece" />
<rect x="1023.06" y="1234.50" width="5.17" height="125.50" fill="#e23a3a" />
<rect x="1027.93" y="1234.50" width="5.17" height="125.50" fill="#fde8dc" />
<rect x="1032.80" y="1234.50" width="5.17" height="125.50" fill="#f68458" />
<rect x="1037.67" y="1234.50" width="5.17" height="125.50" fill="#ea533a" />
<rect x="1042.53" y="1234.50" width="5.17" height="125.50" fill="#f68458" />
<rect x="1047.40" y="1234.50" width="5.17" height="125.50" fill="#e23a3a" />
<rect x="1052.27" y="1234.50" width="5.17" height="125.50" fill="#fde8dc" />
<rect x="1057.14" y="1234.50" width="5.17" height="125.50" fill="#742260" />
<rect x="1062.01" y="1234.50" width="5.17" height="125.50" fill="#ee6038" />
<rect x="1066.87" y="1234.50" width="5.17" height="125.50" fill="#201828" />
<rect x="1071.74" y="1234.50" width="5.17" height="125.50" fill="#f26d45" />
<rect x="1076.61" y="1234.50" width="5.17" height="125.50" fill="#e33e3a" />
<rect x="1081.48" y="1234.50" width="5.17" height="125.50" fill="#f79269" />
<rect x="1086.35" y="1234.50" width="5.17" height="125.50" fill="#d02248" />
<rect x="1091.21" y="1234.50" width="5.17" height="125.50" fill="#742260" />
<rect x="1096.08" y="1234.50" width="5.17" height="125.50" fill="#b61c56" />
<rect x="1100.95" y="1234.50" width="10.04" height="125.50" fill="#ed5d38" />
<rect x="1110.69" y="1234.50" width="5.17" height="125.50" fill="#e9503a" />
<rect x="1115.56" y="1234.50" width="5.17" height="125.50" fill="#f68458" />
<rect x="1120.42" y="1234.50" width="5.17" height="125.50" fill="#df343d" />
<rect x="1125.29" y="1234.50" width="5.17" height="125.50" fill="#f79269" />
<rect x="1130.16" y="1234.50" width="5.17" height="125.50" fill="#be1c52" />
<rect x="1135.03" y="1234.50" width="5.17" height="125.50" fill="#e84c3a" />
<rect x="1139.90" y="1234.50" width="5.17" height="125.50" fill="#a91e5b" />
<rect x="1144.76" y="1234.50" width="10.04" height="125.50" fill="#ed5d38" />
<rect x="1154.50" y="1234.50" width="5.17" height="125.50" fill="#fab18e" />
<rect x="1159.37" y="1234.50" width="5.17" height="125.50" fill="#8e2161" />
<rect x="1164.24" y="1234.50" width="5.17" height="125.50" fill="#fde8dc" />
<rect x="1169.10" y="1234.50" width="5.17" height="125.50" fill="#df343d" />
<rect x="1173.97" y="1234.50" width="10.04" height="125.50" fill="#f9ac87" />
<rect x="1183.71" y="1234.50" width="5.17" height="125.50" fill="#e84c3a" />
<rect x="1188.58" y="1234.50" width="5.17" height="125.50" fill="#dc2f40" />
<rect x="1193.44" y="1234.50" width="10.04" height="125.50" fill="#f8976e" />
<rect x="1203.18" y="1234.50" width="5.17" height="125.50" fill="#812161" />
<rect x="1208.05" y="1234.50" width="5.17" height="125.50" fill="#201828" />
<rect x="1212.92" y="1234.50" width="5.17" height="125.50" fill="#f8976e" />
<rect x="1217.79" y="1234.50" width="5.17" height="125.50" fill="#be1c52" />
<rect x="1222.65" y="1234.50" width="5.17" height="125.50" fill="#19151f" />
<rect x="1227.52" y="1234.50" width="5.17" height="125.50" fill="#4c2150" />
<rect x="1232.39" y="1234.50" width="5.17" height="125.50" fill="#ee6038" />
<rect x="1237.26" y="1234.50" width="5.17" height="125.50" fill="#812161" />
<rect x="1242.13" y="1234.50" width="5.17" height="125.50" fill="#b21d58" />
<rect x="1246.99" y="1234.50" width="5.17" height="125.50" fill="#e23a3a" />
<rect x="1251.86" y="1234.50" width="5.17" height="125.50" fill="#eb5639" />
<rect x="1256.73" y="1234.50" width="5.17" height="125.50" fill="#8e2161" />
<rect x="1261.60" y="1234.50" width="5.17" height="125.50" fill="#ea533a" />
<rect x="1266.47" y="1234.50" width="5.17" height="125.50" fill="#fcd5bf" />
<rect x="1271.33" y="1234.50" width="5.17" height="125.50" fill="#dc2f40" />
<rect x="1276.20" y="1234.50" width="5.17" height="125.50" fill="#ba1c54" />
<rect x="1281.07" y="1234.50" width="5.17" height="125.50" fill="#f57c52" />
<rect x="1285.94" y="1234.50" width="5.17" height="125.50" fill="#23192b" />
<rect x="1290.81" y="1234.50" width="5.17" height="125.50" fill="#e23a3a" />
<rect x="1295.67" y="1234.50" width="5.17" height="125.50" fill="#e9503a" />
<rect x="1300.54" y="1234.50" width="5.17" height="125.50" fill="#d02248" />
<rect x="1305.41" y="1234.50" width="5.17" height="125.50" fill="#e23a3a" />
<rect x="1310.28" y="1234.50" width="5.17" height="125.50" fill="#742260" />
<rect x="1315.15" y="1234.50" width="10.04" height="125.50" fill="#fde8dc" />
<rect x="1324.88" y="1234.50" width="5.17" height="125.50" fill="#a0205e" />
<rect x="1329.75" y="1234.50" width="5.17" height="125.50" fill="#da2c42" />
<rect x="1334.62" y="1234.50" width="5.17" height="125.50" fill="#68225c" />
<rect x="1339.49" y="1234.50" width="5.17" height="125.50" fill="#1c1622" />
<rect x="1344.36" y="1234.50" width="5.17" height="125.50" fill="#b21d58" />
<rect x="1349.22" y="1234.50" width="5.17" height="125.50" fill="#972060" />
<rect x="1354.09" y="1234.50" width="5.17" height="125.50" fill="#742260" />
<rect x="1358.96" y="1234.50" width="5.17" height="125.50" fill="#a91e5b" />
<rect x="1363.83" y="1234.50" width="5.17" height="125.50" fill="#8e2161" />
<rect x="1368.70" y="1234.50" width="5.17" height="125.50" fill="#d42646" />
<rect x="1373.56" y="1234.50" width="10.04" height="125.50" fill="#68225c" />
<rect x="1383.30" y="1234.50" width="5.17" height="125.50" fill="#da2c42" />
<rect x="1388.17" y="1234.50" width="5.17" height="125.50" fill="#a91e5b" />
<rect x="1393.04" y="1234.50" width="5.17" height="125.50" fill="#fab18e" />
<rect x="1397.91" y="1234.50" width="14.90" height="125.50" fill="#46214c" />
<rect x="1412.51" y="1234.50" width="5.17" height="125.50" fill="#f89c74" />
<rect x="1417.38" y="1234.50" width="5.17" height="125.50" fill="#812161" />
<rect x="1422.25" y="1234.50" width="5.17" height="125.50" fill="#fcdac6" />
<rect x="1427.11" y="1234.50" width="10.04" height="125.50" fill="#42204a" />
<rect x="307.45" y="1360.00" width="1129.40" height="126.90" fill="#151319" />
<rect x="331.79" y="1360.00" width="5.17" height="126.90" fill="#e84c3a" />
<rect x="336.66" y="1360.00" width="5.17" height="126.90" fill="#f9ac87" />
<rect x="351.26" y="1360.00" width="5.17" height="126.90" fill="#68225c" />
<rect x="356.13" y="1360.00" width="5.17" height="126.90" fill="#d02248" />
<rect x="380.47" y="1360.00" width="5.17" height="126.90" fill="#f4744b" />
<rect x="448.62" y="1360.00" width="5.17" height="126.90" fill="#e23a3a" />
<rect x="477.83" y="1360.00" width="5.17" height="126.90" fill="#f26d45" />
<rect x="482.70" y="1360.00" width="5.17" height="126.90" fill="#7d2261" />
<rect x="507.04" y="1360.00" width="5.17" height="126.90" fill="#f4744b" />
<rect x="516.78" y="1360.00" width="5.17" height="126.90" fill="#e0373c" />
<rect x="541.12" y="1360.00" width="5.17" height="126.90" fill="#742260" />
<rect x="550.86" y="1360.00" width="5.17" height="126.90" fill="#dc2f40" />
<rect x="555.72" y="1360.00" width="5.17" height="126.90" fill="#fde8dc" />
<rect x="565.46" y="1360.00" width="5.17" height="126.90" fill="#da2c42" />
<rect x="570.33" y="1360.00" width="5.17" height="126.90" fill="#f79269" />
<rect x="575.20" y="1360.00" width="5.17" height="126.90" fill="#df343d" />
<rect x="599.54" y="1360.00" width="5.17" height="126.90" fill="#742260" />
<rect x="604.40" y="1360.00" width="5.17" height="126.90" fill="#7d2261" />
<rect x="609.27" y="1360.00" width="5.17" height="126.90" fill="#fab18e" />
<rect x="619.01" y="1360.00" width="5.17" height="126.90" fill="#7d2261" />
<rect x="623.88" y="1360.00" width="5.17" height="126.90" fill="#932160" />
<rect x="628.74" y="1360.00" width="5.17" height="126.90" fill="#a91e5b" />
<rect x="643.35" y="1360.00" width="5.17" height="126.90" fill="#e0373c" />
<rect x="653.09" y="1360.00" width="5.17" height="126.90" fill="#f26d45" />
<rect x="657.95" y="1360.00" width="5.17" height="126.90" fill="#f9ac87" />
<rect x="662.82" y="1360.00" width="5.17" height="126.90" fill="#ca1c4c" />
<rect x="687.16" y="1360.00" width="10.04" height="126.90" fill="#dd323f" />
<rect x="716.37" y="1360.00" width="5.17" height="126.90" fill="#ec5a39" />
<rect x="735.84" y="1360.00" width="5.17" height="126.90" fill="#f26d45" />
<rect x="745.58" y="1360.00" width="5.17" height="126.90" fill="#e23a3a" />
<rect x="774.79" y="1360.00" width="5.17" height="126.90" fill="#b61c56" />
<rect x="779.66" y="1360.00" width="5.17" height="126.90" fill="#8e2161" />
<rect x="789.39" y="1360.00" width="5.17" height="126.90" fill="#fde8dc" />
<rect x="823.47" y="1360.00" width="5.17" height="126.90" fill="#f4744b" />
<rect x="828.34" y="1360.00" width="5.17" height="126.90" fill="#812161" />
<rect x="833.21" y="1360.00" width="5.17" height="126.90" fill="#ea533a" />
<rect x="842.94" y="1360.00" width="5.17" height="126.90" fill="#341e3e" />
<rect x="881.89" y="1360.00" width="5.17" height="126.90" fill="#f8a17a" />
<rect x="896.49" y="1360.00" width="5.17" height="126.90" fill="#d02248" />
<rect x="954.91" y="1360.00" width="5.17" height="126.90" fill="#ca1c4c" />
<rect x="964.64" y="1360.00" width="10.04" height="126.90" fill="#d02248" />
<rect x="984.12" y="1360.00" width="5.17" height="126.90" fill="#68225c" />
<rect x="988.98" y="1360.00" width="5.17" height="126.90" fill="#be1c52" />
<rect x="993.85" y="1360.00" width="5.17" height="126.90" fill="#ed5d38" />
<rect x="998.72" y="1360.00" width="5.17" height="126.90" fill="#f57c52" />
<rect x="1003.59" y="1360.00" width="5.17" height="126.90" fill="#da2c42" />
<rect x="1013.32" y="1360.00" width="5.17" height="126.90" fill="#3f2048" />
<rect x="1023.06" y="1360.00" width="5.17" height="126.90" fill="#b61c56" />
<rect x="1032.80" y="1360.00" width="10.04" height="126.90" fill="#a91e5b" />
<rect x="1042.53" y="1360.00" width="5.17" height="126.90" fill="#742260" />
<rect x="1057.14" y="1360.00" width="5.17" height="126.90" fill="#f57c52" />
<rect x="1062.01" y="1360.00" width="5.17" height="126.90" fill="#a91e5b" />
<rect x="1066.87" y="1360.00" width="5.17" height="126.90" fill="#f6895e" />
<rect x="1091.21" y="1360.00" width="5.17" height="126.90" fill="#dc2f40" />
<rect x="1096.08" y="1360.00" width="5.17" height="126.90" fill="#e33e3a" />
<rect x="1100.95" y="1360.00" width="5.17" height="126.90" fill="#dc2f40" />
<rect x="1110.69" y="1360.00" width="5.17" height="126.90" fill="#4c2150" />
<rect x="1120.42" y="1360.00" width="5.17" height="126.90" fill="#dc2f40" />
<rect x="1125.29" y="1360.00" width="5.17" height="126.90" fill="#b61c56" />
<rect x="1130.16" y="1360.00" width="5.17" height="126.90" fill="#e9503a" />
<rect x="1139.90" y="1360.00" width="5.17" height="126.90" fill="#f26d45" />
<rect x="1144.76" y="1360.00" width="5.17" height="126.90" fill="#ad1e59" />
<rect x="1169.10" y="1360.00" width="5.17" height="126.90" fill="#d42646" />
<rect x="1173.97" y="1360.00" width="5.17" height="126.90" fill="#2e1d38" />
<rect x="1203.18" y="1360.00" width="5.17" height="126.90" fill="#2e1d38" />
<rect x="1212.92" y="1360.00" width="5.17" height="126.90" fill="#68225c" />
<rect x="1217.79" y="1360.00" width="5.17" height="126.90" fill="#be1c52" />
<rect x="1222.65" y="1360.00" width="10.04" height="126.90" fill="#f8a17a" />
<rect x="1237.26" y="1360.00" width="5.17" height="126.90" fill="#f57c52" />
<rect x="1242.13" y="1360.00" width="5.17" height="126.90" fill="#ea533a" />
<rect x="1271.33" y="1360.00" width="5.17" height="126.90" fill="#b21d58" />
<rect x="1290.81" y="1360.00" width="5.17" height="126.90" fill="#a91e5b" />
<rect x="1339.49" y="1360.00" width="5.17" height="126.90" fill="#be1c52" />
<rect x="1358.96" y="1360.00" width="5.17" height="126.90" fill="#ee6038" />
<rect x="1363.83" y="1360.00" width="5.17" height="126.90" fill="#f26d45" />
<rect x="1407.64" y="1360.00" width="5.17" height="126.90" fill="#f8976e" />
<rect x="1417.38" y="1360.00" width="5.17" height="126.90" fill="#f57c52" />
<rect x="307.45" y="1486.90" width="1129.40" height="126.25" fill="#151319" />
<rect x="307.45" y="1486.90" width="5.17" height="126.25" fill="#f26d45" />
<rect x="312.32" y="1486.90" width="19.77" height="126.25" fill="#f6895e" />
<rect x="346.39" y="1486.90" width="5.17" height="126.25" fill="#742260" />
<rect x="361.00" y="1486.90" width="5.17" height="126.25" fill="#fab18e" />
<rect x="365.87" y="1486.90" width="5.17" height="126.25" fill="#68225c" />
<rect x="370.74" y="1486.90" width="5.17" height="126.25" fill="#281b32" />
<rect x="375.60" y="1486.90" width="5.17" height="126.25" fill="#972060" />
<rect x="380.47" y="1486.90" width="5.17" height="126.25" fill="#201828" />
<rect x="385.34" y="1486.90" width="5.17" height="126.25" fill="#68225c" />
<rect x="390.21" y="1486.90" width="5.17" height="126.25" fill="#f26d45" />
<rect x="395.08" y="1486.90" width="5.17" height="126.25" fill="#fde8dc" />
<rect x="399.94" y="1486.90" width="10.04" height="126.25" fill="#542154" />
<rect x="409.68" y="1486.90" width="5.17" height="126.25" fill="#f9ac87" />
<rect x="414.55" y="1486.90" width="5.17" height="126.25" fill="#1c1622" />
<rect x="419.42" y="1486.90" width="5.17" height="126.25" fill="#df343d" />
<rect x="424.28" y="1486.90" width="5.17" height="126.25" fill="#fab18e" />
<rect x="429.15" y="1486.90" width="5.17" height="126.25" fill="#812161" />
<rect x="434.02" y="1486.90" width="5.17" height="126.25" fill="#ed5d38" />
<rect x="438.89" y="1486.90" width="5.17" height="126.25" fill="#be1c52" />
<rect x="443.76" y="1486.90" width="5.17" height="126.25" fill="#df343d" />
<rect x="448.62" y="1486.90" width="5.17" height="126.25" fill="#542154" />
<rect x="463.23" y="1486.90" width="5.17" height="126.25" fill="#582256" />
<rect x="492.44" y="1486.90" width="5.17" height="126.25" fill="#e33e3a" />
<rect x="511.91" y="1486.90" width="10.04" height="126.25" fill="#201828" />
<rect x="521.65" y="1486.90" width="5.17" height="126.25" fill="#4c2150" />
<rect x="526.51" y="1486.90" width="10.04" height="126.25" fill="#2e1d38" />
<rect x="560.59" y="1486.90" width="5.17" height="126.25" fill="#2e1d38" />
<rect x="580.06" y="1486.90" width="10.04" height="126.25" fill="#2e1d38" />
<rect x="623.88" y="1486.90" width="10.04" height="126.25" fill="#23192b" />
<rect x="633.61" y="1486.90" width="5.17" height="126.25" fill="#812161" />
<rect x="643.35" y="1486.90" width="5.17" height="126.25" fill="#1c1622" />
<rect x="648.22" y="1486.90" width="5.17" height="126.25" fill="#68225c" />
<rect x="667.69" y="1486.90" width="10.04" height="126.25" fill="#742260" />
<rect x="677.43" y="1486.90" width="5.17" height="126.25" fill="#2e1d38" />
<rect x="682.29" y="1486.90" width="5.17" height="126.25" fill="#68225c" />
<rect x="687.16" y="1486.90" width="10.04" height="126.25" fill="#1c1622" />
<rect x="696.90" y="1486.90" width="5.17" height="126.25" fill="#201828" />
<rect x="701.77" y="1486.90" width="5.17" height="126.25" fill="#f6895e" />
<rect x="721.24" y="1486.90" width="5.17" height="126.25" fill="#341e3e" />
<rect x="726.11" y="1486.90" width="5.17" height="126.25" fill="#3f2048" />
<rect x="730.97" y="1486.90" width="5.17" height="126.25" fill="#8e2161" />
<rect x="750.45" y="1486.90" width="10.04" height="126.25" fill="#542154" />
<rect x="760.18" y="1486.90" width="5.17" height="126.25" fill="#b61c56" />
<rect x="765.05" y="1486.90" width="5.17" height="126.25" fill="#1c1622" />
<rect x="769.92" y="1486.90" width="5.17" height="126.25" fill="#df343d" />
<rect x="779.66" y="1486.90" width="5.17" height="126.25" fill="#8e2161" />
<rect x="794.26" y="1486.90" width="5.17" height="126.25" fill="#b61c56" />
<rect x="799.13" y="1486.90" width="53.85" height="126.25" fill="#1c1622" />
<rect x="852.68" y="1486.90" width="5.17" height="126.25" fill="#dd323f" />
<rect x="857.55" y="1486.90" width="5.17" height="126.25" fill="#ca1c4c" />
<rect x="867.28" y="1486.90" width="5.17" height="126.25" fill="#ee6038" />
<rect x="872.15" y="1486.90" width="5.17" height="126.25" fill="#dd323f" />
<rect x="877.02" y="1486.90" width="5.17" height="126.25" fill="#281b32" />
<rect x="886.75" y="1486.90" width="5.17" height="126.25" fill="#4c2150" />
<rect x="891.62" y="1486.90" width="5.17" height="126.25" fill="#742260" />
<rect x="896.49" y="1486.90" width="5.17" height="126.25" fill="#4c2150" />
<rect x="906.23" y="1486.90" width="5.17" height="126.25" fill="#b21d58" />
<rect x="911.09" y="1486.90" width="5.17" height="126.25" fill="#f4744b" />
<rect x="915.96" y="1486.90" width="10.04" height="126.25" fill="#f79269" />
<rect x="925.70" y="1486.90" width="5.17" height="126.25" fill="#dc2f40" />
<rect x="930.57" y="1486.90" width="5.17" height="126.25" fill="#f6895e" />
<rect x="959.78" y="1486.90" width="5.17" height="126.25" fill="#42204a" />
<rect x="988.98" y="1486.90" width="5.17" height="126.25" fill="#281b32" />
<rect x="1008.46" y="1486.90" width="5.17" height="126.25" fill="#542154" />
<rect x="1047.40" y="1486.90" width="5.17" height="126.25" fill="#d02248" />
<rect x="1066.87" y="1486.90" width="5.17" height="126.25" fill="#2e1d38" />
<rect x="1071.74" y="1486.90" width="5.17" height="126.25" fill="#68225c" />
<rect x="1076.61" y="1486.90" width="5.17" height="126.25" fill="#742260" />
<rect x="1081.48" y="1486.90" width="5.17" height="126.25" fill="#281b32" />
<rect x="1086.35" y="1486.90" width="5.17" height="126.25" fill="#ca1c4c" />
<rect x="1091.21" y="1486.90" width="5.17" height="126.25" fill="#2e1d38" />
<rect x="1105.82" y="1486.90" width="5.17" height="126.25" fill="#812161" />
<rect x="1110.69" y="1486.90" width="5.17" height="126.25" fill="#4c2150" />
<rect x="1135.03" y="1486.90" width="5.17" height="126.25" fill="#a0205e" />
<rect x="1149.63" y="1486.90" width="5.17" height="126.25" fill="#4c2150" />
<rect x="1154.50" y="1486.90" width="5.17" height="126.25" fill="#2e1d38" />
<rect x="1159.37" y="1486.90" width="5.17" height="126.25" fill="#a0205e" />
<rect x="1164.24" y="1486.90" width="24.64" height="126.25" fill="#19151f" />
<rect x="1188.58" y="1486.90" width="5.17" height="126.25" fill="#8a2162" />
<rect x="1193.44" y="1486.90" width="5.17" height="126.25" fill="#2e1d38" />
<rect x="1203.18" y="1486.90" width="5.17" height="126.25" fill="#e23a3a" />
<rect x="1208.05" y="1486.90" width="5.17" height="126.25" fill="#f8a17a" />
<rect x="1217.79" y="1486.90" width="5.17" height="126.25" fill="#42204a" />
<rect x="1222.65" y="1486.90" width="5.17" height="126.25" fill="#341e3e" />
<rect x="1232.39" y="1486.90" width="5.17" height="126.25" fill="#341e3e" />
<rect x="1246.99" y="1486.90" width="5.17" height="126.25" fill="#68225c" />
<rect x="1251.86" y="1486.90" width="5.17" height="126.25" fill="#4c2150" />
<rect x="1256.73" y="1486.90" width="5.17" height="126.25" fill="#e84c3a" />
<rect x="1261.60" y="1486.90" width="5.17" height="126.25" fill="#742260" />
<rect x="1276.20" y="1486.90" width="5.17" height="126.25" fill="#b61c56" />
<rect x="1281.07" y="1486.90" width="5.17" height="126.25" fill="#812161" />
<rect x="1285.94" y="1486.90" width="5.17" height="126.25" fill="#a91e5b" />
<rect x="1295.67" y="1486.90" width="5.17" height="126.25" fill="#68225c" />
<rect x="1300.54" y="1486.90" width="5.17" height="126.25" fill="#b21d58" />
<rect x="1310.28" y="1486.90" width="5.17" height="126.25" fill="#f26d45" />
<rect x="1324.88" y="1486.90" width="5.17" height="126.25" fill="#ee6038" />
<rect x="1329.75" y="1486.90" width="5.17" height="126.25" fill="#812161" />
<rect x="1334.62" y="1486.90" width="5.17" height="126.25" fill="#f6895e" />
<rect x="1339.49" y="1486.90" width="5.17" height="126.25" fill="#68225c" />
<rect x="1344.36" y="1486.90" width="5.17" height="126.25" fill="#b61c56" />
<rect x="1349.22" y="1486.90" width="10.04" height="126.25" fill="#ed5d38" />
<rect x="1368.70" y="1486.90" width="5.17" height="126.25" fill="#742260" />
<rect x="1373.56" y="1486.90" width="10.04" height="126.25" fill="#e33e3a" />
<rect x="1383.30" y="1486.90" width="5.17" height="126.25" fill="#b21d58" />
<rect x="1388.17" y="1486.90" width="5.17" height="126.25" fill="#d02248" />
<rect x="1397.91" y="1486.90" width="10.04" height="126.25" fill="#e84c3a" />
<rect x="1412.51" y="1486.90" width="5.17" height="126.25" fill="#42204a" />
<rect x="1427.11" y="1486.90" width="5.17" height="126.25" fill="#ee6038" />
<rect x="1431.98" y="1486.90" width="5.17" height="126.25" fill="#d42646" />
</g>
<g shape-rendering="crispEdges">
<rect x="307.45" y="993.90" width="24.64" height="36.80" fill="#8e9ac5" />
<rect x="331.79" y="993.90" width="122.00" height="36.80" fill="#6fc5dd" />
<rect x="453.49" y="993.90" width="350.80" height="36.80" fill="#e5462c" />
<rect x="804.00" y="993.90" width="136.61" height="36.80" fill="#27a78e" />
<rect x="940.30" y="993.90" width="496.85" height="36.80" fill="#3f4f8b" />
<rect x="307.45" y="1030.70" width="24.64" height="36.60" fill="#8a4513" />
<rect x="331.79" y="1030.70" width="5.17" height="36.60" fill="#b5efdd" />
<rect x="336.66" y="1030.70" width="5.17" height="36.60" fill="#aeecd7" />
<rect x="341.53" y="1030.70" width="5.17" height="36.60" fill="#a7e9d2" />
<rect x="346.39" y="1030.70" width="5.17" height="36.60" fill="#a0e6cc" />
<rect x="351.26" y="1030.70" width="5.17" height="36.60" fill="#88dab4" />
<rect x="356.13" y="1030.70" width="5.17" height="36.60" fill="#62c088" />
<rect x="361.00" y="1030.70" width="5.17" height="36.60" fill="#55b679" />
<rect x="365.87" y="1030.70" width="5.17" height="36.60" fill="#48ac6a" />
<rect x="370.74" y="1030.70" width="5.17" height="36.60" fill="#3ba45c" />
<rect x="375.60" y="1030.70" width="5.17" height="36.60" fill="#2f9b4f" />
<rect x="380.47" y="1030.70" width="5.17" height="36.60" fill="#229242" />
<rect x="385.34" y="1030.70" width="5.17" height="36.60" fill="#219141" />
<rect x="390.21" y="1030.70" width="5.17" height="36.60" fill="#1f8f3f" />
<rect x="395.08" y="1030.70" width="5.17" height="36.60" fill="#1e8e3e" />
<rect x="399.94" y="1030.70" width="5.17" height="36.60" fill="#1c8c3c" />
<rect x="404.81" y="1030.70" width="5.17" height="36.60" fill="#1b8b3b" />
<rect x="409.68" y="1030.70" width="5.17" height="36.60" fill="#198939" />
<rect x="414.55" y="1030.70" width="5.17" height="36.60" fill="#188838" />
<rect x="419.42" y="1030.70" width="5.17" height="36.60" fill="#177038" />
<rect x="424.28" y="1030.70" width="5.17" height="36.60" fill="#176c37" />
<rect x="429.15" y="1030.70" width="5.17" height="36.60" fill="#176936" />
<rect x="434.02" y="1030.70" width="5.17" height="36.60" fill="#176535" />
<rect x="438.89" y="1030.70" width="14.90" height="36.60" fill="#8a4513" />
<rect x="453.49" y="1030.70" width="5.17" height="36.60" fill="#9ce4c8" />
<rect x="458.36" y="1030.70" width="5.17" height="36.60" fill="#9ae3c6" />
<rect x="463.23" y="1030.70" width="5.17" height="36.60" fill="#97e2c3" />
<rect x="468.10" y="1030.70" width="5.17" height="36.60" fill="#95e0c1" />
<rect x="472.97" y="1030.70" width="5.17" height="36.60" fill="#92dfbe" />
<rect x="477.83" y="1030.70" width="5.17" height="36.60" fill="#90debc" />
<rect x="482.70" y="1030.70" width="5.17" height="36.60" fill="#85d8b0" />
<rect x="487.57" y="1030.70" width="5.17" height="36.60" fill="#7ad2a5" />
<rect x="492.44" y="1030.70" width="5.17" height="36.60" fill="#75cf9f" />
<rect x="497.31" y="1030.70" width="5.17" height="36.60" fill="#70cc9a" />
<rect x="502.17" y="1030.70" width="5.17" height="36.60" fill="#6bc994" />
<rect x="507.04" y="1030.70" width="5.17" height="36.60" fill="#66c68e" />
<rect x="511.91" y="1030.70" width="5.17" height="36.60" fill="#64c58c" />
<rect x="516.78" y="1030.70" width="5.17" height="36.60" fill="#63c389" />
<rect x="521.65" y="1030.70" width="5.17" height="36.60" fill="#61c287" />
<rect x="526.51" y="1030.70" width="5.17" height="36.60" fill="#5fc085" />
<rect x="531.38" y="1030.70" width="5.17" height="36.60" fill="#5dbf83" />
<rect x="536.25" y="1030.70" width="5.17" height="36.60" fill="#5cbd80" />
<rect x="541.12" y="1030.70" width="5.17" height="36.60" fill="#5abc7e" />
<rect x="545.99" y="1030.70" width="5.17" height="36.60" fill="#58ba7b" />
<rect x="550.86" y="1030.70" width="5.17" height="36.60" fill="#56b879" />
<rect x="555.72" y="1030.70" width="5.17" height="36.60" fill="#54b676" />
<rect x="560.59" y="1030.70" width="5.17" height="36.60" fill="#52b474" />
<rect x="565.46" y="1030.70" width="5.17" height="36.60" fill="#50b271" />
<rect x="570.33" y="1030.70" width="5.17" height="36.60" fill="#4eb06f" />
<rect x="575.20" y="1030.70" width="5.17" height="36.60" fill="#4cae6c" />
<rect x="580.06" y="1030.70" width="5.17" height="36.60" fill="#4aac69" />
<rect x="584.93" y="1030.70" width="5.17" height="36.60" fill="#47aa66" />
<rect x="589.80" y="1030.70" width="5.17" height="36.60" fill="#45a864" />
<rect x="594.67" y="1030.70" width="5.17" height="36.60" fill="#42a661" />
<rect x="599.54" y="1030.70" width="5.17" height="36.60" fill="#40a45e" />
<rect x="604.40" y="1030.70" width="5.17" height="36.60" fill="#3ea35c" />
<rect x="609.27" y="1030.70" width="5.17" height="36.60" fill="#3ca25a" />
<rect x="614.14" y="1030.70" width="5.17" height="36.60" fill="#3aa158" />
<rect x="619.01" y="1030.70" width="5.17" height="36.60" fill="#389f56" />
<rect x="623.88" y="1030.70" width="5.17" height="36.60" fill="#369e54" />
<rect x="628.74" y="1030.70" width="5.17" height="36.60" fill="#349d52" />
<rect x="633.61" y="1030.70" width="5.17" height="36.60" fill="#329c50" />
<rect x="638.48" y="1030.70" width="5.17" height="36.60" fill="#309b4e" />
<rect x="643.35" y="1030.70" width="5.17" height="36.60" fill="#2e9a4b" />
<rect x="648.22" y="1030.70" width="5.17" height="36.60" fill="#2c9849" />
<rect x="653.09" y="1030.70" width="5.17" height="36.60" fill="#2a9746" />
<rect x="657.95" y="1030.70" width="5.17" height="36.60" fill="#289644" />
<rect x="662.82" y="1030.70" width="5.17" height="36.60" fill="#269442" />
<rect x="667.69" y="1030.70" width="5.17" height="36.60" fill="#239240" />
<rect x="672.56" y="1030.70" width="5.17" height="36.60" fill="#20903e" />
<rect x="677.43" y="1030.70" width="5.17" height="36.60" fill="#1e8e3c" />
<rect x="682.29" y="1030.70" width="5.17" height="36.60" fill="#1d8d3b" />
<rect x="687.16" y="1030.70" width="5.17" height="36.60" fill="#1c8c3b" />
<rect x="692.03" y="1030.70" width="5.17" height="36.60" fill="#1b8b3a" />
<rect x="696.90" y="1030.70" width="5.17" height="36.60" fill="#1a8a39" />
<rect x="701.77" y="1030.70" width="5.17" height="36.60" fill="#198939" />
<rect x="706.63" y="1030.70" width="5.17" height="36.60" fill="#188838" />
<rect x="711.50" y="1030.70" width="5.17" height="36.60" fill="#188638" />
<rect x="716.37" y="1030.70" width="5.17" height="36.60" fill="#188338" />
<rect x="721.24" y="1030.70" width="5.17" height="36.60" fill="#188138" />
<rect x="726.11" y="1030.70" width="5.17" height="36.60" fill="#177f38" />
<rect x="730.97" y="1030.70" width="5.17" height="36.60" fill="#177c38" />
<rect x="735.84" y="1030.70" width="5.17" height="36.60" fill="#177a38" />
<rect x="740.71" y="1030.70" width="5.17" height="36.60" fill="#177637" />
<rect x="745.58" y="1030.70" width="5.17" height="36.60" fill="#177336" />
<rect x="750.45" y="1030.70" width="5.17" height="36.60" fill="#177035" />
<rect x="755.32" y="1030.70" width="5.17" height="36.60" fill="#176c34" />
<rect x="760.18" y="1030.70" width="5.17" height="36.60" fill="#176732" />
<rect x="765.05" y="1030.70" width="5.17" height="36.60" fill="#186130" />
<rect x="769.92" y="1030.70" width="5.17" height="36.60" fill="#185c2e" />
<rect x="774.79" y="1030.70" width="29.51" height="36.60" fill="#8a4513" />
<rect x="804.00" y="1030.70" width="5.17" height="36.60" fill="#c4f2e4" />
<rect x="808.86" y="1030.70" width="5.17" height="36.60" fill="#bdf0df" />
<rect x="813.73" y="1030.70" width="5.17" height="36.60" fill="#b6edda" />
<rect x="818.60" y="1030.70" width="5.17" height="36.60" fill="#afead5" />
<rect x="823.47" y="1030.70" width="5.17" height="36.60" fill="#a8e8d0" />
<rect x="828.34" y="1030.70" width="5.17" height="36.60" fill="#9ae2c6" />
<rect x="833.21" y="1030.70" width="5.17" height="36.60" fill="#8cdcbc" />
<rect x="838.07" y="1030.70" width="5.17" height="36.60" fill="#74cc9e" />
<rect x="842.94" y="1030.70" width="5.17" height="36.60" fill="#5cbb80" />
<rect x="847.81" y="1030.70" width="5.17" height="36.60" fill="#3ca458" />
<rect x="852.68" y="1030.70" width="5.17" height="36.60" fill="#3aa255" />
<rect x="857.55" y="1030.70" width="5.17" height="36.60" fill="#37a153" />
<rect x="862.41" y="1030.70" width="5.17" height="36.60" fill="#359f50" />
<rect x="867.28" y="1030.70" width="5.17" height="36.60" fill="#339d4d" />
<rect x="872.15" y="1030.70" width="5.17" height="36.60" fill="#309c4b" />
<rect x="877.02" y="1030.70" width="5.17" height="36.60" fill="#2e9a48" />
<rect x="881.89" y="1030.70" width="5.17" height="36.60" fill="#279543" />
<rect x="886.75" y="1030.70" width="5.17" height="36.60" fill="#218f3f" />
<rect x="891.62" y="1030.70" width="5.17" height="36.60" fill="#1a8a3a" />
<rect x="896.49" y="1030.70" width="5.17" height="36.60" fill="#198439" />
<rect x="901.36" y="1030.70" width="5.17" height="36.60" fill="#187e39" />
<rect x="906.23" y="1030.70" width="5.17" height="36.60" fill="#177838" />
<rect x="911.09" y="1030.70" width="5.17" height="36.60" fill="#177236" />
<rect x="915.96" y="1030.70" width="5.17" height="36.60" fill="#176d34" />
<rect x="920.83" y="1030.70" width="5.17" height="36.60" fill="#186732" />
<rect x="925.70" y="1030.70" width="5.17" height="36.60" fill="#186230" />
<rect x="930.57" y="1030.70" width="5.17" height="36.60" fill="#185c2e" />
<rect x="935.44" y="1030.70" width="5.17" height="36.60" fill="#8a4513" />
<rect x="940.30" y="1030.70" width="5.17" height="36.60" fill="#c8f3e6" />
<rect x="945.17" y="1030.70" width="5.17" height="36.60" fill="#c5f2e5" />
<rect x="950.04" y="1030.70" width="5.17" height="36.60" fill="#c3f2e3" />
<rect x="954.91" y="1030.70" width="5.17" height="36.60" fill="#c0f1e2" />
<rect x="959.78" y="1030.70" width="5.17" height="36.60" fill="#bdf0e0" />
<rect x="964.64" y="1030.70" width="5.17" height="36.60" fill="#bbf0df" />
<rect x="969.51" y="1030.70" width="5.17" height="36.60" fill="#b8efde" />
<rect x="974.38" y="1030.70" width="5.17" height="36.60" fill="#b5eedc" />
<rect x="979.25" y="1030.70" width="5.17" height="36.60" fill="#b3eedb" />
<rect x="984.12" y="1030.70" width="5.17" height="36.60" fill="#b0edd9" />
<rect x="988.98" y="1030.70" width="5.17" height="36.60" fill="#adecd8" />
<rect x="993.85" y="1030.70" width="5.17" height="36.60" fill="#abecd6" />
<rect x="998.72" y="1030.70" width="5.17" height="36.60" fill="#a8ebd5" />
<rect x="1003.59" y="1030.70" width="5.17" height="36.60" fill="#a5ead3" />
<rect x="1008.46" y="1030.70" width="5.17" height="36.60" fill="#a3e8d0" />
<rect x="1013.32" y="1030.70" width="5.17" height="36.60" fill="#a0e7ce" />
<rect x="1018.19" y="1030.70" width="5.17" height="36.60" fill="#9ee6cc" />
<rect x="1023.06" y="1030.70" width="5.17" height="36.60" fill="#9be4ca" />
<rect x="1027.93" y="1030.70" width="5.17" height="36.60" fill="#99e3c7" />
<rect x="1032.80" y="1030.70" width="5.17" height="36.60" fill="#96e1c5" />
<rect x="1037.67" y="1030.70" width="5.17" height="36.60" fill="#94e0c3" />
<rect x="1042.53" y="1030.70" width="5.17" height="36.60" fill="#91dfc1" />
<rect x="1047.40" y="1030.70" width="5.17" height="36.60" fill="#8fddbe" />
<rect x="1052.27" y="1030.70" width="5.17" height="36.60" fill="#8cdcbc" />
<rect x="1057.14" y="1030.70" width="5.17" height="36.60" fill="#88dab7" />
<rect x="1062.01" y="1030.70" width="5.17" height="36.60" fill="#85d8b2" />
<rect x="1066.87" y="1030.70" width="5.17" height="36.60" fill="#81d5ad" />
<rect x="1071.74" y="1030.70" width="5.17" height="36.60" fill="#7ed3a8" />
<rect x="1076.61" y="1030.70" width="5.17" height="36.60" fill="#7ad1a4" />
<rect x="1081.48" y="1030.70" width="5.17" height="36.60" fill="#77cf9f" />
<rect x="1086.35" y="1030.70" width="5.17" height="36.60" fill="#73cc9a" />
<rect x="1091.21" y="1030.70" width="5.17" height="36.60" fill="#70ca95" />
<rect x="1096.08" y="1030.70" width="5.17" height="36.60" fill="#6cc890" />
<rect x="1100.95" y="1030.70" width="5.17" height="36.60" fill="#6ac68d" />
<rect x="1105.82" y="1030.70" width="5.17" height="36.60" fill="#67c48a" />
<rect x="1110.69" y="1030.70" width="5.17" height="36.60" fill="#64c287" />
<rect x="1115.56" y="1030.70" width="5.17" height="36.60" fill="#62c084" />
<rect x="1120.42" y="1030.70" width="5.17" height="36.60" fill="#60be81" />
<rect x="1125.29" y="1030.70" width="5.17" height="36.60" fill="#5dbc7e" />
<rect x="1130.16" y="1030.70" width="5.17" height="36.60" fill="#5aba7b" />
<rect x="1135.03" y="1030.70" width="5.17" height="36.60" fill="#58b878" />
<rect x="1139.90" y="1030.70" width="5.17" height="36.60" fill="#57b777" />
<rect x="1144.76" y="1030.70" width="5.17" height="36.60" fill="#55b675" />
<rect x="1149.63" y="1030.70" width="5.17" height="36.60" fill="#54b574" />
<rect x="1154.50" y="1030.70" width="5.17" height="36.60" fill="#52b472" />
<rect x="1159.37" y="1030.70" width="5.17" height="36.60" fill="#51b371" />
<rect x="1164.24" y="1030.70" width="5.17" height="36.60" fill="#4fb16f" />
<rect x="1169.10" y="1030.70" width="5.17" height="36.60" fill="#4eb06e" />
<rect x="1173.97" y="1030.70" width="5.17" height="36.60" fill="#4caf6c" />
<rect x="1178.84" y="1030.70" width="5.17" height="36.60" fill="#4bae6b" />
<rect x="1183.71" y="1030.70" width="5.17" height="36.60" fill="#49ad69" />
<rect x="1188.58" y="1030.70" width="5.17" height="36.60" fill="#48ac68" />
<rect x="1193.44" y="1030.70" width="5.17" height="36.60" fill="#47ab66" />
<rect x="1198.31" y="1030.70" width="5.17" height="36.60" fill="#45a964" />
<rect x="1203.18" y="1030.70" width="5.17" height="36.60" fill="#44a863" />
<rect x="1208.05" y="1030.70" width="5.17" height="36.60" fill="#43a761" />
<rect x="1212.92" y="1030.70" width="5.17" height="36.60" fill="#41a55f" />
<rect x="1217.79" y="1030.70" width="5.17" height="36.60" fill="#40a45d" />
<rect x="1222.65" y="1030.70" width="5.17" height="36.60" fill="#3fa35c" />
<rect x="1227.52" y="1030.70" width="5.17" height="36.60" fill="#3da15a" />
<rect x="1232.39" y="1030.70" width="5.17" height="36.60" fill="#3ca058" />
<rect x="1237.26" y="1030.70" width="5.17" height="36.60" fill="#3a9f55" />
<rect x="1242.13" y="1030.70" width="5.17" height="36.60" fill="#389e52" />
<rect x="1246.99" y="1030.70" width="5.17" height="36.60" fill="#359d4f" />
<rect x="1251.86" y="1030.70" width="5.17" height="36.60" fill="#339c4c" />
<rect x="1256.73" y="1030.70" width="5.17" height="36.60" fill="#319b49" />
<rect x="1261.60" y="1030.70" width="5.17" height="36.60" fill="#2e9a46" />
<rect x="1266.47" y="1030.70" width="5.17" height="36.60" fill="#2c9943" />
<rect x="1271.33" y="1030.70" width="5.17" height="36.60" fill="#2a9840" />
<rect x="1276.20" y="1030.70" width="5.17" height="36.60" fill="#28973f" />
<rect x="1281.07" y="1030.70" width="5.17" height="36.60" fill="#27953f" />
<rect x="1285.94" y="1030.70" width="5.17" height="36.60" fill="#25943e" />
<rect x="1290.81" y="1030.70" width="5.17" height="36.60" fill="#23933d" />
<rect x="1295.67" y="1030.70" width="5.17" height="36.60" fill="#22923c" />
<rect x="1300.54" y="1030.70" width="5.17" height="36.60" fill="#20903c" />
<rect x="1305.41" y="1030.70" width="5.17" height="36.60" fill="#1f8f3b" />
<rect x="1310.28" y="1030.70" width="5.17" height="36.60" fill="#1d8e3a" />
<rect x="1315.15" y="1030.70" width="5.17" height="36.60" fill="#1b8d39" />
<rect x="1320.02" y="1030.70" width="5.17" height="36.60" fill="#1a8b39" />
<rect x="1324.88" y="1030.70" width="5.17" height="36.60" fill="#188a38" />
<rect x="1329.75" y="1030.70" width="5.17" height="36.60" fill="#188938" />
<rect x="1334.62" y="1030.70" width="5.17" height="36.60" fill="#188838" />
<rect x="1339.49" y="1030.70" width="5.17" height="36.60" fill="#188739" />
<rect x="1344.36" y="1030.70" width="5.17" height="36.60" fill="#188639" />
<rect x="1349.22" y="1030.70" width="5.17" height="36.60" fill="#188539" />
<rect x="1354.09" y="1030.70" width="5.17" height="36.60" fill="#178539" />
<rect x="1358.96" y="1030.70" width="5.17" height="36.60" fill="#178439" />
<rect x="1363.83" y="1030.70" width="5.17" height="36.60" fill="#178339" />
<rect x="1368.70" y="1030.70" width="5.17" height="36.60" fill="#17823a" />
<rect x="1373.56" y="1030.70" width="5.17" height="36.60" fill="#17813a" />
<rect x="1378.43" y="1030.70" width="5.17" height="36.60" fill="#17803a" />
<rect x="1383.30" y="1030.70" width="5.17" height="36.60" fill="#177d3a" />
<rect x="1388.17" y="1030.70" width="5.17" height="36.60" fill="#177a39" />
<rect x="1393.04" y="1030.70" width="5.17" height="36.60" fill="#177838" />
<rect x="1397.91" y="1030.70" width="5.17" height="36.60" fill="#177538" />
<rect x="1402.77" y="1030.70" width="5.17" height="36.60" fill="#176035" />
<rect x="1407.64" y="1030.70" width="29.51" height="36.60" fill="#8a4513" />
<rect x="453.49" y="1067.30" width="19.47" height="38.30" fill="#337bb9" />
<rect x="482.70" y="1067.30" width="4.87" height="38.30" fill="#337bb9" />
<rect x="492.44" y="1067.30" width="14.60" height="38.30" fill="#337bb9" />
<rect x="511.91" y="1067.30" width="4.87" height="38.30" fill="#337bb9" />
<rect x="521.65" y="1067.30" width="4.87" height="38.30" fill="#337bb9" />
<rect x="536.25" y="1067.30" width="14.60" height="38.30" fill="#337bb9" />
<rect x="560.59" y="1067.30" width="4.87" height="38.30" fill="#337bb9" />
<rect x="575.20" y="1067.30" width="9.74" height="38.30" fill="#337bb9" />
<rect x="594.67" y="1067.30" width="4.87" height="38.30" fill="#337bb9" />
<rect x="614.14" y="1067.30" width="4.87" height="38.30" fill="#337bb9" />
<rect x="638.48" y="1067.30" width="9.74" height="38.30" fill="#337bb9" />
<rect x="662.82" y="1067.30" width="9.74" height="38.30" fill="#337bb9" />
<rect x="677.43" y="1067.30" width="9.74" height="38.30" fill="#337bb9" />
<rect x="696.90" y="1067.30" width="4.87" height="38.30" fill="#337bb9" />
<rect x="706.63" y="1067.30" width="9.74" height="38.30" fill="#337bb9" />
<rect x="730.97" y="1067.30" width="4.87" height="38.30" fill="#337bb9" />
<rect x="745.58" y="1067.30" width="4.87" height="38.30" fill="#337bb9" />
<rect x="755.32" y="1067.30" width="4.87" height="38.30" fill="#337bb9" />
<rect x="765.05" y="1067.30" width="4.87" height="38.30" fill="#337bb9" />
<rect x="779.66" y="1067.30" width="24.34" height="38.30" fill="#337bb9" />
</g>
<line x1="300.30" y1="1012.00" x2="307.60" y2="1012.00" stroke="#1a1a1a" stroke-width="1.3" />
<text x="294.80" y="1022.20" font-size="28.6" font-family="Liberation Sans, Arial, sans-serif" text-anchor="end" letter-spacing="0.46">Diagnosis</text>
<line x1="300.30" y1="1049.50" x2="307.60" y2="1049.50" stroke="#1a1a1a" stroke-width="1.3" />
<text x="294.80" y="1059.70" font-size="28.6" font-family="Liberation Sans, Arial, sans-serif" text-anchor="end" letter-spacing="0.46">% CD206 high</text>
<line x1="300.30" y1="1087.00" x2="307.60" y2="1087.00" stroke="#1a1a1a" stroke-width="1.3" />
<text x="294.80" y="1097.20" font-size="28.6" font-family="Liberation Sans, Arial, sans-serif" text-anchor="end" letter-spacing="0.46">SARS-CoV-2 detected</text>
<line x1="300.30" y1="1172.20" x2="307.60" y2="1172.20" stroke="#1a1a1a" stroke-width="1.3" />
<text x="294.60" y="1184.20" font-size="32.8" font-family="Liberation Sans, Arial, sans-serif" text-anchor="end" letter-spacing="0.62">MoAM2</text>
<line x1="300.30" y1="1298.20" x2="307.60" y2="1298.20" stroke="#1a1a1a" stroke-width="1.3" />
<text x="294.60" y="1310.20" font-size="32.8" font-family="Liberation Sans, Arial, sans-serif" text-anchor="end" letter-spacing="0.62">MoAM3</text>
<line x1="300.30" y1="1424.00" x2="307.60" y2="1424.00" stroke="#1a1a1a" stroke-width="1.3" />
<text x="294.60" y="1436.00" font-size="32.8" font-family="Liberation Sans, Arial, sans-serif" text-anchor="end" letter-spacing="0.62">MoAM4</text>
<line x1="300.30" y1="1549.70" x2="307.60" y2="1549.70" stroke="#1a1a1a" stroke-width="1.3" />
<text x="294.60" y="1561.70" font-size="32.8" font-family="Liberation Sans, Arial, sans-serif" text-anchor="end" letter-spacing="0.62">TRAM</text>
<text x="1614.90" y="1037.00" font-size="28.3" font-family="Liberation Sans, Arial, sans-serif" text-anchor="middle" letter-spacing="0.58">Diagnosis</text>
<rect x="1457.80" y="1055.20" width="27.20" height="19.40" fill="#8e9ac5" />
<text x="1503.00" y="1073.30" font-size="24" font-family="Liberation Sans, Arial, sans-serif" text-anchor="start" letter-spacing="0.6">Healthy Control</text>
<rect x="1457.80" y="1090.40" width="27.20" height="19.40" fill="#6fc5dd" />
<text x="1503.00" y="1108.50" font-size="24" font-family="Liberation Sans, Arial, sans-serif" text-anchor="start" letter-spacing="0.6">Non-Pneumonia Control</text>
<rect x="1457.80" y="1125.60" width="27.20" height="19.40" fill="#e5462c" />
<text x="1503.00" y="1143.70" font-size="24" font-family="Liberation Sans, Arial, sans-serif" text-anchor="start" letter-spacing="0.6">COVID-19</text>
<rect x="1457.80" y="1160.80" width="27.20" height="19.40" fill="#27a78e" />
<text x="1503.00" y="1178.90" font-size="24" font-family="Liberation Sans, Arial, sans-serif" text-anchor="start" letter-spacing="0.6">Other Viral Pneumonia</text>
<rect x="1457.80" y="1196.00" width="27.20" height="19.40" fill="#3f4f8b" />
<text x="1503.00" y="1214.10" font-size="24" font-family="Liberation Sans, Arial, sans-serif" text-anchor="start" letter-spacing="0.6">Other Pneumonia</text>
<text x="1454.40" y="1286.20" font-size="28.5" font-family="Liberation Sans, Arial, sans-serif" text-anchor="start" letter-spacing="0.42">% CD206 high</text>
<defs><linearGradient id="cbG" x1="0" y1="1" x2="0" y2="0"><stop offset="0" stop-color="#ccf5ea"/><stop offset="0.25" stop-color="#98dec3"/><stop offset="0.5" stop-color="#50b37a"/><stop offset="0.65" stop-color="#259a48"/><stop offset="0.75" stop-color="#168a39"/><stop offset="1" stop-color="#1c5632"/></linearGradient>
<linearGradient id="cbR" x1="0" y1="1" x2="0" y2="0"><stop offset="0.00" stop-color="#151319"/><stop offset="0.05" stop-color="#201828"/><stop offset="0.10" stop-color="#2e1d38"/><stop offset="0.15" stop-color="#3c2046"/><stop offset="0.20" stop-color="#4c2150"/><stop offset="0.25" stop-color="#60225a"/><stop offset="0.30" stop-color="#742260"/><stop offset="0.35" stop-color="#8a2162"/><stop offset="0.40" stop-color="#a0205e"/><stop offset="0.45" stop-color="#b61c56"/><stop offset="0.50" stop-color="#ca1c4c"/><stop offset="0.55" stop-color="#da2c42"/><stop offset="0.60" stop-color="#e23a3a"/><stop offset="0.65" stop-color="#e9503a"/><stop offset="0.70" stop-color="#ee6038"/><stop offset="0.75" stop-color="#f37048"/><stop offset="0.80" stop-color="#f68458"/><stop offset="0.85" stop-color="#f89c74"/><stop offset="0.90" stop-color="#fab694"/><stop offset="0.95" stop-color="#fcd0b8"/><stop offset="1.00" stop-color="#fde8dc"/></linearGradient></defs>
<rect x="1454.2" y="1307.5" width="36.4" height="111.6" fill="url(#cbG)" stroke="#111" stroke-width="1.3"/>
<line x1="1490.60" y1="1307.50" x2="1497.80" y2="1307.50" stroke="#1a1a1a" stroke-width="1.3" />
<text x="1504.60" y="1314.60" font-size="20.3" font-family="Liberation Sans, Arial, sans-serif" text-anchor="start" letter-spacing="0.4">100</text>
<line x1="1490.60" y1="1335.30" x2="1497.80" y2="1335.30" stroke="#1a1a1a" stroke-width="1.3" />
<text x="1504.60" y="1342.40" font-size="20.3" font-family="Liberation Sans, Arial, sans-serif" text-anchor="start" letter-spacing="0.4">75</text>
<line x1="1490.60" y1="1363.20" x2="1497.80" y2="1363.20" stroke="#1a1a1a" stroke-width="1.3" />
<text x="1504.60" y="1370.30" font-size="20.3" font-family="Liberation Sans, Arial, sans-serif" text-anchor="start" letter-spacing="0.4">50</text>
<line x1="1490.60" y1="1391.00" x2="1497.80" y2="1391.00" stroke="#1a1a1a" stroke-width="1.3" />
<text x="1504.60" y="1398.10" font-size="20.3" font-family="Liberation Sans, Arial, sans-serif" text-anchor="start" letter-spacing="0.4">25</text>
<line x1="1490.60" y1="1419.10" x2="1497.80" y2="1419.10" stroke="#1a1a1a" stroke-width="1.3" />
<text x="1504.60" y="1426.20" font-size="20.3" font-family="Liberation Sans, Arial, sans-serif" text-anchor="start" letter-spacing="0.4">0</text>
<rect x="1567.4" y="1304.6" width="23.9" height="23.4" fill="#8a4513" stroke="#111" stroke-width="1.3"/>
<text x="1602.60" y="1324.10" font-size="19.2" font-family="Liberation Sans, Arial, sans-serif" text-anchor="start" letter-spacing="0.6">NA</text>
<text x="1453.60" y="1480.10" font-size="28.3" font-family="Liberation Sans, Arial, sans-serif" text-anchor="start" letter-spacing="0.6">Fraction</text>
<rect x="1454.2" y="1501.6" width="36.4" height="111.3" fill="url(#cbR)" stroke="#111" stroke-width="1.3"/>
<line x1="1490.60" y1="1501.60" x2="1497.80" y2="1501.60" stroke="#1a1a1a" stroke-width="1.3" />
<text x="1504.60" y="1508.70" font-size="20.3" font-family="Liberation Sans, Arial, sans-serif" text-anchor="start" letter-spacing="0.4">1.0</text>
<line x1="1490.60" y1="1557.30" x2="1497.80" y2="1557.30" stroke="#1a1a1a" stroke-width="1.3" />
<text x="1504.60" y="1564.40" font-size="20.3" font-family="Liberation Sans, Arial, sans-serif" text-anchor="start" letter-spacing="0.4">0.5</text>
<line x1="1490.60" y1="1612.90" x2="1497.80" y2="1612.90" stroke="#1a1a1a" stroke-width="1.3" />
<text x="1504.60" y="1620.00" font-size="20.3" font-family="Liberation Sans, Arial, sans-serif" text-anchor="start" letter-spacing="0.4">0.0</text>
<text x="27.70" y="979.50" font-size="31" font-family="Liberation Sans, Arial, sans-serif" text-anchor="start" font-weight="bold">b</text>
<text x="27.60" y="1688.70" font-size="31" font-family="Liberation Sans, Arial, sans-serif" text-anchor="start" font-weight="bold">c</text>
<line x1="114.90" y1="1930.50" x2="114.90" y2="2426.90" stroke="#1a1a1a" stroke-width="1.5" />
<line x1="108.40" y1="1931.20" x2="114.90" y2="1931.20" stroke="#1a1a1a" stroke-width="1.5" />
<text x="103.20" y="1938.80" font-size="20.6" font-family="Liberation Sans, Arial, sans-serif" text-anchor="end" letter-spacing="0.6">1.00</text>
<line x1="108.40" y1="2054.95" x2="114.90" y2="2054.95" stroke="#1a1a1a" stroke-width="1.5" />
<text x="103.20" y="2062.55" font-size="20.6" font-family="Liberation Sans, Arial, sans-serif" text-anchor="end" letter-spacing="0.6">0.75</text>
<line x1="108.40" y1="2178.70" x2="114.90" y2="2178.70" stroke="#1a1a1a" stroke-width="1.5" />
<text x="103.20" y="2186.30" font-size="20.6" font-family="Liberation Sans, Arial, sans-serif" text-anchor="end" letter-spacing="0.6">0.50</text>
<line x1="108.40" y1="2302.45" x2="114.90" y2="2302.45" stroke="#1a1a1a" stroke-width="1.5" />
<text x="103.20" y="2310.05" font-size="20.6" font-family="Liberation Sans, Arial, sans-serif" text-anchor="end" letter-spacing="0.6">0.25</text>
<line x1="108.40" y1="2426.20" x2="114.90" y2="2426.20" stroke="#1a1a1a" stroke-width="1.5" />
<text x="103.20" y="2433.80" font-size="20.6" font-family="Liberation Sans, Arial, sans-serif" text-anchor="end" letter-spacing="0.6">0.00</text>
<text transform="translate(48.1,2175.5) rotate(-90)" font-size="25" font-family="Liberation Sans, Arial, sans-serif" text-anchor="middle" letter-spacing="0.18">Proportion of cell type</text>
<line x1="114.20" y1="2445.60" x2="1544.60" y2="2445.60" stroke="#1a1a1a" stroke-width="1.5" />
<line x1="352.60" y1="2445.60" x2="352.60" y2="2452.20" stroke="#1a1a1a" stroke-width="1.5" />
<text x="353.00" y="2476.30" font-size="24.5" font-family="Liberation Sans, Arial, sans-serif" text-anchor="middle" letter-spacing="0.8">MoAM3</text>
<line x1="828.60" y1="2445.60" x2="828.60" y2="2452.20" stroke="#1a1a1a" stroke-width="1.5" />
<text x="829.00" y="2476.30" font-size="24.5" font-family="Liberation Sans, Arial, sans-serif" text-anchor="middle" letter-spacing="0.8">MoAM4</text>
<line x1="1304.60" y1="2445.60" x2="1304.60" y2="2452.20" stroke="#1a1a1a" stroke-width="1.5" />
<text x="1305.00" y="2476.30" font-size="24.5" font-family="Liberation Sans, Arial, sans-serif" text-anchor="middle" letter-spacing="0.8">TRAM</text>
<path d="M200.4 1681.8 V1672.3 H428.9 V1681.8" fill="none" stroke="#262626" stroke-width="1.35"/>
<text x="314.95" y="1668.10" font-size="17.8" font-family="Liberation Sans, Arial, sans-serif" text-anchor="middle" letter-spacing="0.33">q=6.66e-03</text>
<path d="M200.4 1749.5 V1740.0 H352.6 V1749.5" fill="none" stroke="#262626" stroke-width="1.35"/>
<text x="276.80" y="1735.80" font-size="17.8" font-family="Liberation Sans, Arial, sans-serif" text-anchor="middle" letter-spacing="0.33">q=1.72e-03</text>
<path d="M200.4 1817.6 V1808.1 H276.7 V1817.6" fill="none" stroke="#262626" stroke-width="1.35"/>
<text x="238.85" y="1803.90" font-size="17.8" font-family="Liberation Sans, Arial, sans-serif" text-anchor="middle" letter-spacing="0.33">q=1.34e-02</text>
<path d="M352.6 1817.6 V1808.1 H505.2 V1817.6" fill="none" stroke="#262626" stroke-width="1.35"/>
<text x="429.20" y="1803.90" font-size="17.8" font-family="Liberation Sans, Arial, sans-serif" text-anchor="middle" letter-spacing="0.33">q=4.13e-02</text>
<path d="M276.7 1885.3 V1875.8 H352.6 V1885.3" fill="none" stroke="#262626" stroke-width="1.35"/>
<text x="314.95" y="1871.60" font-size="17.8" font-family="Liberation Sans, Arial, sans-serif" text-anchor="middle" letter-spacing="0.33">q=6.66e-03</text>
<path d="M1228.4 1690.7 V1681.2 H1456.6 V1690.7" fill="none" stroke="#262626" stroke-width="1.35"/>
<text x="1342.80" y="1677.00" font-size="17.8" font-family="Liberation Sans, Arial, sans-serif" text-anchor="middle" letter-spacing="0.33">q=2.69e-02</text>
<path d="M1152.3 1758.7 V1749.2 H1304.6 V1758.7" fill="none" stroke="#262626" stroke-width="1.35"/>
<text x="1228.75" y="1745.00" font-size="17.8" font-family="Liberation Sans, Arial, sans-serif" text-anchor="middle" letter-spacing="0.33">q=1.39e-03</text>
<path d="M1152.3 1826.6 V1817.1 H1228.4 V1826.6" fill="none" stroke="#262626" stroke-width="1.35"/>
<text x="1190.65" y="1812.90" font-size="17.8" font-family="Liberation Sans, Arial, sans-serif" text-anchor="middle" letter-spacing="0.33">q=2.25e-02</text>
<path d="M1304.6 1826.6 V1817.1 H1380.5 V1826.6" fill="none" stroke="#262626" stroke-width="1.35"/>
<text x="1342.85" y="1812.90" font-size="17.8" font-family="Liberation Sans, Arial, sans-serif" text-anchor="middle" letter-spacing="0.33">q=4.22e-03</text>
<path d="M1228.4 1894.2 V1884.7 H1304.6 V1894.2" fill="none" stroke="#262626" stroke-width="1.35"/>
<text x="1266.80" y="1880.50" font-size="17.8" font-family="Liberation Sans, Arial, sans-serif" text-anchor="middle" letter-spacing="0.33">q=2.21e-03</text>
<text x="1615.30" y="1779.50" font-size="22.9" font-family="Liberation Sans, Arial, sans-serif" text-anchor="middle" letter-spacing="0.45">Diagnosis</text>
<rect x="1468.9" y="1795.60" width="43.8" height="15.6" fill="#8e9ac5" stroke="#5a5f70" stroke-width="1"/>
<text x="1529.20" y="1810.50" font-size="21.2" font-family="Liberation Sans, Arial, sans-serif" text-anchor="start" letter-spacing="0.33">Healthy Control</text>
<rect x="1468.9" y="1826.24" width="43.8" height="15.6" fill="#6fc5dd" stroke="#5a5f70" stroke-width="1"/>
<text x="1529.20" y="1841.14" font-size="21.2" font-family="Liberation Sans, Arial, sans-serif" text-anchor="start" letter-spacing="0.33">Non-Pneumonia Control</text>
<rect x="1468.9" y="1856.88" width="43.8" height="15.6" fill="#e5462c" stroke="#5a5f70" stroke-width="1"/>
<text x="1529.20" y="1871.78" font-size="21.2" font-family="Liberation Sans, Arial, sans-serif" text-anchor="start" letter-spacing="0.33">COVID-19</text>
<rect x="1468.9" y="1887.52" width="43.8" height="15.6" fill="#27a78e" stroke="#5a5f70" stroke-width="1"/>
<text x="1529.20" y="1902.42" font-size="21.2" font-family="Liberation Sans, Arial, sans-serif" text-anchor="start" letter-spacing="0.33">Other Viral Pneumonia</text>
<rect x="1468.9" y="1918.16" width="43.8" height="15.6" fill="#3f4f8b" stroke="#5a5f70" stroke-width="1"/>
<text x="1529.20" y="1933.06" font-size="21.2" font-family="Liberation Sans, Arial, sans-serif" text-anchor="start" letter-spacing="0.33">Other Pneumonia</text>
<line x1="200.40" y1="2379.70" x2="200.40" y2="2382.20" stroke="#262626" stroke-width="1.3" />
<line x1="181.20" y1="2379.70" x2="219.60" y2="2379.70" stroke="#262626" stroke-width="1.3" />
<line x1="200.40" y1="2391.10" x2="200.40" y2="2399.50" stroke="#262626" stroke-width="1.3" />
<line x1="181.20" y1="2399.50" x2="219.60" y2="2399.50" stroke="#262626" stroke-width="1.3" />
<rect x="166.50" y="2382.20" width="67.8" height="8.90" fill="#8e9ac5" stroke="#3a3d45" stroke-width="1.2"/>
<line x1="166.50" y1="2385.30" x2="234.30" y2="2385.30" stroke="#3a3d45" stroke-width="1.3" />
<line x1="276.70" y1="1937.10" x2="276.70" y2="2164.50" stroke="#262626" stroke-width="1.3" />
<line x1="257.50" y1="1937.10" x2="295.90" y2="1937.10" stroke="#262626" stroke-width="1.3" />
<line x1="276.70" y1="2321.30" x2="276.70" y2="2426.20" stroke="#262626" stroke-width="1.3" />
<line x1="257.50" y1="2426.20" x2="295.90" y2="2426.20" stroke="#262626" stroke-width="1.3" />
<rect x="242.80" y="2164.50" width="67.8" height="156.80" fill="#6fc5dd" stroke="#3a3d45" stroke-width="1.2"/>
<line x1="242.80" y1="2245.20" x2="310.60" y2="2245.20" stroke="#3a3d45" stroke-width="1.3" />
<line x1="352.60" y1="1932.70" x2="352.60" y2="2024.40" stroke="#262626" stroke-width="1.3" />
<line x1="333.40" y1="1932.70" x2="371.80" y2="1932.70" stroke="#262626" stroke-width="1.3" />
<line x1="352.60" y1="2230.70" x2="352.60" y2="2426.20" stroke="#262626" stroke-width="1.3" />
<line x1="333.40" y1="2426.20" x2="371.80" y2="2426.20" stroke="#262626" stroke-width="1.3" />
<rect x="318.70" y="2024.40" width="67.8" height="206.30" fill="#e5462c" stroke="#3a3d45" stroke-width="1.2"/>
<line x1="318.70" y1="2118.50" x2="386.50" y2="2118.50" stroke="#3a3d45" stroke-width="1.3" />
<line x1="428.90" y1="1940.10" x2="428.90" y2="2042.10" stroke="#262626" stroke-width="1.3" />
<line x1="409.70" y1="1940.10" x2="448.10" y2="1940.10" stroke="#262626" stroke-width="1.3" />
<line x1="428.90" y1="2328.90" x2="428.90" y2="2426.20" stroke="#262626" stroke-width="1.3" />
<line x1="409.70" y1="2426.20" x2="448.10" y2="2426.20" stroke="#262626" stroke-width="1.3" />
<rect x="395.00" y="2042.10" width="67.8" height="286.80" fill="#27a78e" stroke="#3a3d45" stroke-width="1.2"/>
<line x1="395.00" y1="2185.50" x2="462.80" y2="2185.50" stroke="#3a3d45" stroke-width="1.3" />
<line x1="505.20" y1="1934.50" x2="505.20" y2="2068.00" stroke="#262626" stroke-width="1.3" />
<line x1="486.00" y1="1934.50" x2="524.40" y2="1934.50" stroke="#262626" stroke-width="1.3" />
<line x1="505.20" y1="2276.40" x2="505.20" y2="2426.20" stroke="#262626" stroke-width="1.3" />
<line x1="486.00" y1="2426.20" x2="524.40" y2="2426.20" stroke="#262626" stroke-width="1.3" />
<rect x="471.30" y="2068.00" width="67.8" height="208.40" fill="#3f4f8b" stroke="#3a3d45" stroke-width="1.2"/>
<line x1="471.30" y1="2170.80" x2="539.10" y2="2170.80" stroke="#3a3d45" stroke-width="1.3" />
<line x1="642.30" y1="2426.20" x2="710.10" y2="2426.20" stroke="#262626" stroke-width="1.3" />
<line x1="642.30" y1="2426.20" x2="710.10" y2="2426.20" stroke="#3a3d45" stroke-width="1.3" />
<rect x="718.50" y="2392.40" width="67.8" height="33.80" fill="#6fc5dd" stroke="#3a3d45" stroke-width="1.2"/>
<line x1="718.50" y1="2426.20" x2="786.30" y2="2426.20" stroke="#3a3d45" stroke-width="1.3" />
<line x1="828.60" y1="1947.00" x2="828.60" y2="2212.40" stroke="#262626" stroke-width="1.3" />
<line x1="809.40" y1="1947.00" x2="847.80" y2="1947.00" stroke="#262626" stroke-width="1.3" />
<rect x="794.70" y="2212.40" width="67.8" height="213.80" fill="#e5462c" stroke="#3a3d45" stroke-width="1.2"/>
<line x1="794.70" y1="2426.20" x2="862.50" y2="2426.20" stroke="#3a3d45" stroke-width="1.3" />
<rect x="870.90" y="2416.00" width="67.8" height="10.20" fill="#27a78e" stroke="#3a3d45" stroke-width="1.2"/>
<line x1="870.90" y1="2426.20" x2="938.70" y2="2426.20" stroke="#3a3d45" stroke-width="1.3" />
<line x1="981.00" y1="2016.50" x2="981.00" y2="2235.80" stroke="#262626" stroke-width="1.3" />
<line x1="961.80" y1="2016.50" x2="1000.20" y2="2016.50" stroke="#262626" stroke-width="1.3" />
<rect x="947.10" y="2235.80" width="67.8" height="190.40" fill="#3f4f8b" stroke="#3a3d45" stroke-width="1.2"/>
<line x1="947.10" y1="2426.20" x2="1014.90" y2="2426.20" stroke="#3a3d45" stroke-width="1.3" />
<line x1="1152.30" y1="2025.40" x2="1152.30" y2="2036.30" stroke="#262626" stroke-width="1.3" />
<line x1="1133.10" y1="2025.40" x2="1171.50" y2="2025.40" stroke="#262626" stroke-width="1.3" />
<line x1="1152.30" y1="2054.10" x2="1152.30" y2="2079.70" stroke="#262626" stroke-width="1.3" />
<line x1="1133.10" y1="2079.70" x2="1171.50" y2="2079.70" stroke="#262626" stroke-width="1.3" />
<rect x="1118.40" y="2036.30" width="67.8" height="17.80" fill="#8e9ac5" stroke="#3a3d45" stroke-width="1.2"/>
<line x1="1118.40" y1="2039.30" x2="1186.20" y2="2039.30" stroke="#3a3d45" stroke-width="1.3" />
<line x1="1228.40" y1="1941.60" x2="1228.40" y2="2147.50" stroke="#262626" stroke-width="1.3" />
<line x1="1209.20" y1="1941.60" x2="1247.60" y2="1941.60" stroke="#262626" stroke-width="1.3" />
<line x1="1228.40" y1="2406.90" x2="1228.40" y2="2426.20" stroke="#262626" stroke-width="1.3" />
<line x1="1209.20" y1="2426.20" x2="1247.60" y2="2426.20" stroke="#262626" stroke-width="1.3" />
<rect x="1194.50" y="2147.50" width="67.8" height="259.40" fill="#6fc5dd" stroke="#3a3d45" stroke-width="1.2"/>
<line x1="1194.50" y1="2304.80" x2="1262.30" y2="2304.80" stroke="#3a3d45" stroke-width="1.3" />
<line x1="1304.60" y1="2295.40" x2="1304.60" y2="2369.00" stroke="#262626" stroke-width="1.3" />
<line x1="1285.40" y1="2295.40" x2="1323.80" y2="2295.40" stroke="#262626" stroke-width="1.3" />
<rect x="1270.70" y="2369.00" width="67.8" height="57.20" fill="#e5462c" stroke="#3a3d45" stroke-width="1.2"/>
<line x1="1270.70" y1="2416.00" x2="1338.50" y2="2416.00" stroke="#3a3d45" stroke-width="1.3" />
<line x1="1380.50" y1="2028.90" x2="1380.50" y2="2204.10" stroke="#262626" stroke-width="1.3" />
<line x1="1361.30" y1="2028.90" x2="1399.70" y2="2028.90" stroke="#262626" stroke-width="1.3" />
<line x1="1380.50" y1="2414.20" x2="1380.50" y2="2426.20" stroke="#262626" stroke-width="1.3" />
<line x1="1361.30" y1="2426.20" x2="1399.70" y2="2426.20" stroke="#262626" stroke-width="1.3" />
<rect x="1346.60" y="2204.10" width="67.8" height="210.10" fill="#27a78e" stroke="#3a3d45" stroke-width="1.2"/>
<line x1="1346.60" y1="2376.60" x2="1414.40" y2="2376.60" stroke="#3a3d45" stroke-width="1.3" />
<line x1="1456.60" y1="2054.30" x2="1456.60" y2="2273.10" stroke="#262626" stroke-width="1.3" />
<line x1="1437.40" y1="2054.30" x2="1475.80" y2="2054.30" stroke="#262626" stroke-width="1.3" />
<rect x="1422.70" y="2273.10" width="67.8" height="153.10" fill="#3f4f8b" stroke="#3a3d45" stroke-width="1.2"/>
<line x1="1422.70" y1="2394.20" x2="1490.50" y2="2394.20" stroke="#3a3d45" stroke-width="1.3" />
<circle cx="200.50" cy="2380.50" r="2.75" fill="#0a0a0a" />
<circle cx="197.50" cy="2381.90" r="2.75" fill="#0a0a0a" />
<circle cx="200.50" cy="2386.00" r="2.75" fill="#0a0a0a" />
<circle cx="200.50" cy="2391.10" r="2.75" fill="#0a0a0a" />
<circle cx="200.50" cy="2399.50" r="2.75" fill="#0a0a0a" />
<circle cx="276.65" cy="1937.06" r="2.75" fill="#0a0a0a" />
<circle cx="276.65" cy="1952.03" r="2.75" fill="#0a0a0a" />
<circle cx="276.65" cy="1968.02" r="2.75" fill="#0a0a0a" />
<circle cx="276.65" cy="2026.40" r="2.75" fill="#0a0a0a" />
<circle cx="276.65" cy="2075.38" r="2.75" fill="#0a0a0a" />
<circle cx="276.65" cy="2121.32" r="2.75" fill="#0a0a0a" />
<circle cx="276.65" cy="2164.72" r="2.75" fill="#0a0a0a" />
<circle cx="276.65" cy="2174.87" r="2.75" fill="#0a0a0a" />
<circle cx="276.65" cy="2189.59" r="2.75" fill="#0a0a0a" />
<circle cx="276.65" cy="2217.01" r="2.75" fill="#0a0a0a" />
<circle cx="276.65" cy="2237.31" r="2.75" fill="#0a0a0a" />
<circle cx="270.30" cy="2245.18" r="2.75" fill="#0a0a0a" />
<circle cx="276.65" cy="2245.18" r="2.75" fill="#0a0a0a" />
<circle cx="282.99" cy="2245.18" r="2.75" fill="#0a0a0a" />
<circle cx="272.84" cy="2305.33" r="2.75" fill="#0a0a0a" />
<circle cx="276.65" cy="2307.87" r="2.75" fill="#0a0a0a" />
<circle cx="276.65" cy="2311.68" r="2.75" fill="#0a0a0a" />
<circle cx="272.84" cy="2318.27" r="2.75" fill="#0a0a0a" />
<circle cx="276.65" cy="2320.56" r="2.75" fill="#0a0a0a" />
<circle cx="276.65" cy="2343.40" r="2.75" fill="#0a0a0a" />
<circle cx="276.65" cy="2359.90" r="2.75" fill="#0a0a0a" />
<circle cx="276.65" cy="2373.86" r="2.75" fill="#0a0a0a" />
<circle cx="276.65" cy="2386.04" r="2.75" fill="#0a0a0a" />
<circle cx="270.30" cy="2424.87" r="2.75" fill="#0a0a0a" />
<circle cx="276.65" cy="2424.87" r="2.75" fill="#0a0a0a" />
<circle cx="346.45" cy="1932.74" r="2.75" fill="#0a0a0a" />
<circle cx="352.79" cy="1932.74" r="2.75" fill="#0a0a0a" />
<circle cx="359.14" cy="1932.74" r="2.75" fill="#0a0a0a" />
<circle cx="352.79" cy="1942.64" r="2.75" fill="#0a0a0a" />
<circle cx="348.98" cy="1952.54" r="2.75" fill="#0a0a0a" />
<circle cx="352.79" cy="1954.57" r="2.75" fill="#0a0a0a" />
<circle cx="348.98" cy="1960.91" r="2.75" fill="#0a0a0a" />
<circle cx="355.33" cy="1960.91" r="2.75" fill="#0a0a0a" />
<circle cx="352.79" cy="1964.72" r="2.75" fill="#0a0a0a" />
<circle cx="347.72" cy="1970.56" r="2.75" fill="#0a0a0a" />
<circle cx="353.30" cy="1968.53" r="2.75" fill="#0a0a0a" />
<circle cx="347.72" cy="1977.41" r="2.75" fill="#0a0a0a" />
<circle cx="352.79" cy="1974.37" r="2.75" fill="#0a0a0a" />
<circle cx="352.79" cy="1980.71" r="2.75" fill="#0a0a0a" />
<circle cx="352.79" cy="2004.82" r="2.75" fill="#0a0a0a" />
<circle cx="352.79" cy="2015.48" r="2.75" fill="#0a0a0a" />
<circle cx="352.79" cy="2021.32" r="2.75" fill="#0a0a0a" />
<circle cx="355.33" cy="2023.86" r="2.75" fill="#0a0a0a" />
<circle cx="350.25" cy="2025.63" r="2.75" fill="#0a0a0a" />
<circle cx="346.45" cy="2033.25" r="2.75" fill="#0a0a0a" />
<circle cx="352.79" cy="2031.98" r="2.75" fill="#0a0a0a" />
<circle cx="347.72" cy="2039.09" r="2.75" fill="#0a0a0a" />
<circle cx="354.06" cy="2039.09" r="2.75" fill="#0a0a0a" />
<circle cx="352.79" cy="2042.64" r="2.75" fill="#0a0a0a" />
<circle cx="346.45" cy="2055.33" r="2.75" fill="#0a0a0a" />
<circle cx="352.79" cy="2055.33" r="2.75" fill="#0a0a0a" />
<circle cx="359.14" cy="2054.06" r="2.75" fill="#0a0a0a" />
<circle cx="348.98" cy="2084.77" r="2.75" fill="#0a0a0a" />
<circle cx="352.79" cy="2087.82" r="2.75" fill="#0a0a0a" />
<circle cx="352.79" cy="2098.48" r="2.75" fill="#0a0a0a" />
<circle cx="346.45" cy="2104.31" r="2.75" fill="#0a0a0a" />
<circle cx="352.79" cy="2105.08" r="2.75" fill="#0a0a0a" />
<circle cx="348.98" cy="2108.63" r="2.75" fill="#0a0a0a" />
<circle cx="356.60" cy="2108.12" r="2.75" fill="#0a0a0a" />
<circle cx="352.79" cy="2111.93" r="2.75" fill="#0a0a0a" />
<circle cx="352.79" cy="2125.89" r="2.75" fill="#0a0a0a" />
<circle cx="346.45" cy="2136.04" r="2.75" fill="#0a0a0a" />
<circle cx="352.79" cy="2138.58" r="2.75" fill="#0a0a0a" />
<circle cx="352.79" cy="2142.39" r="2.75" fill="#0a0a0a" />
<circle cx="346.45" cy="2151.27" r="2.75" fill="#0a0a0a" />
<circle cx="352.79" cy="2152.54" r="2.75" fill="#0a0a0a" />
<circle cx="350.25" cy="2158.88" r="2.75" fill="#0a0a0a" />
<circle cx="355.33" cy="2161.42" r="2.75" fill="#0a0a0a" />
<circle cx="346.45" cy="2166.50" r="2.75" fill="#0a0a0a" />
<circle cx="352.79" cy="2166.50" r="2.75" fill="#0a0a0a" />
<circle cx="352.79" cy="2170.30" r="2.75" fill="#0a0a0a" />
<circle cx="350.25" cy="2193.15" r="2.75" fill="#0a0a0a" />
<circle cx="352.79" cy="2195.69" r="2.75" fill="#0a0a0a" />
<circle cx="352.79" cy="2209.64" r="2.75" fill="#0a0a0a" />
<circle cx="352.79" cy="2214.72" r="2.75" fill="#0a0a0a" />
<circle cx="352.79" cy="2223.60" r="2.75" fill="#0a0a0a" />
<circle cx="352.79" cy="2228.68" r="2.75" fill="#0a0a0a" />
<circle cx="352.79" cy="2233.76" r="2.75" fill="#0a0a0a" />
<circle cx="352.79" cy="2245.18" r="2.75" fill="#0a0a0a" />
<circle cx="352.79" cy="2251.52" r="2.75" fill="#0a0a0a" />
<circle cx="347.21" cy="2265.48" r="2.75" fill="#0a0a0a" />
<circle cx="354.06" cy="2264.72" r="2.75" fill="#0a0a0a" />
<circle cx="352.79" cy="2279.95" r="2.75" fill="#0a0a0a" />
<circle cx="352.79" cy="2285.79" r="2.75" fill="#0a0a0a" />
<circle cx="352.79" cy="2292.64" r="2.75" fill="#0a0a0a" />
<circle cx="352.79" cy="2319.54" r="2.75" fill="#0a0a0a" />
<circle cx="352.79" cy="2328.93" r="2.75" fill="#0a0a0a" />
<circle cx="346.45" cy="2334.52" r="2.75" fill="#0a0a0a" />
<circle cx="352.79" cy="2335.28" r="2.75" fill="#0a0a0a" />
<circle cx="352.79" cy="2341.62" r="2.75" fill="#0a0a0a" />
<circle cx="352.79" cy="2346.70" r="2.75" fill="#0a0a0a" />
<circle cx="352.79" cy="2370.81" r="2.75" fill="#0a0a0a" />
<circle cx="352.79" cy="2410.66" r="2.75" fill="#0a0a0a" />
<circle cx="352.79" cy="2425.89" r="2.75" fill="#0a0a0a" />
<circle cx="428.91" cy="1940.10" r="2.75" fill="#0a0a0a" />
<circle cx="422.39" cy="1943.65" r="2.75" fill="#0a0a0a" />
<circle cx="428.73" cy="1945.18" r="2.75" fill="#0a0a0a" />
<circle cx="428.91" cy="1976.14" r="2.75" fill="#0a0a0a" />
<circle cx="427.46" cy="2002.79" r="2.75" fill="#0a0a0a" />
<circle cx="435.08" cy="2004.06" r="2.75" fill="#0a0a0a" />
<circle cx="428.73" cy="2006.09" r="2.75" fill="#0a0a0a" />
<circle cx="428.91" cy="2054.31" r="2.75" fill="#0a0a0a" />
<circle cx="428.91" cy="2062.44" r="2.75" fill="#0a0a0a" />
<circle cx="422.39" cy="2068.78" r="2.75" fill="#0a0a0a" />
<circle cx="428.73" cy="2068.27" r="2.75" fill="#0a0a0a" />
<circle cx="428.91" cy="2074.62" r="2.75" fill="#0a0a0a" />
<circle cx="428.91" cy="2120.81" r="2.75" fill="#0a0a0a" />
<circle cx="428.91" cy="2168.27" r="2.75" fill="#0a0a0a" />
<circle cx="428.91" cy="2202.03" r="2.75" fill="#0a0a0a" />
<circle cx="428.91" cy="2217.26" r="2.75" fill="#0a0a0a" />
<circle cx="428.91" cy="2236.29" r="2.75" fill="#0a0a0a" />
<circle cx="435.08" cy="2294.92" r="2.75" fill="#0a0a0a" />
<circle cx="428.73" cy="2296.70" r="2.75" fill="#0a0a0a" />
<circle cx="428.91" cy="2316.24" r="2.75" fill="#0a0a0a" />
<circle cx="428.91" cy="2321.32" r="2.75" fill="#0a0a0a" />
<circle cx="428.91" cy="2350.00" r="2.75" fill="#0a0a0a" />
<circle cx="428.91" cy="2363.20" r="2.75" fill="#0a0a0a" />
<circle cx="422.39" cy="2374.11" r="2.75" fill="#0a0a0a" />
<circle cx="428.73" cy="2374.62" r="2.75" fill="#0a0a0a" />
<circle cx="428.91" cy="2383.50" r="2.75" fill="#0a0a0a" />
<circle cx="428.91" cy="2405.58" r="2.75" fill="#0a0a0a" />
<circle cx="428.91" cy="2425.89" r="2.75" fill="#0a0a0a" />
<circle cx="508.68" cy="1933.76" r="2.75" fill="#0a0a0a" />
<circle cx="498.53" cy="1936.29" r="2.75" fill="#0a0a0a" />
<circle cx="505.13" cy="1937.31" r="2.75" fill="#0a0a0a" />
<circle cx="498.53" cy="1949.49" r="2.75" fill="#0a0a0a" />
<circle cx="505.13" cy="1949.49" r="2.75" fill="#0a0a0a" />
<circle cx="501.83" cy="1963.45" r="2.75" fill="#0a0a0a" />
<circle cx="507.66" cy="1962.69" r="2.75" fill="#0a0a0a" />
<circle cx="505.13" cy="1966.50" r="2.75" fill="#0a0a0a" />
<circle cx="505.13" cy="1975.63" r="2.75" fill="#0a0a0a" />
<circle cx="505.13" cy="1991.88" r="2.75" fill="#0a0a0a" />
<circle cx="498.53" cy="1996.95" r="2.75" fill="#0a0a0a" />
<circle cx="505.13" cy="1996.95" r="2.75" fill="#0a0a0a" />
<circle cx="505.13" cy="2010.91" r="2.75" fill="#0a0a0a" />
<circle cx="505.13" cy="2015.48" r="2.75" fill="#0a0a0a" />
<circle cx="498.53" cy="2023.10" r="2.75" fill="#0a0a0a" />
<circle cx="505.13" cy="2023.10" r="2.75" fill="#0a0a0a" />
<circle cx="505.13" cy="2029.44" r="2.75" fill="#0a0a0a" />
<circle cx="498.53" cy="2037.06" r="2.75" fill="#0a0a0a" />
<circle cx="505.13" cy="2038.32" r="2.75" fill="#0a0a0a" />
<circle cx="510.20" cy="2040.36" r="2.75" fill="#0a0a0a" />
<circle cx="498.53" cy="2043.40" r="2.75" fill="#0a0a0a" />
<circle cx="505.13" cy="2043.40" r="2.75" fill="#0a0a0a" />
<circle cx="505.13" cy="2047.21" r="2.75" fill="#0a0a0a" />
<circle cx="499.29" cy="2059.39" r="2.75" fill="#0a0a0a" />
<circle cx="505.13" cy="2061.17" r="2.75" fill="#0a0a0a" />
<circle cx="501.83" cy="2067.51" r="2.75" fill="#0a0a0a" />
<circle cx="505.13" cy="2071.32" r="2.75" fill="#0a0a0a" />
<circle cx="505.13" cy="2078.93" r="2.75" fill="#0a0a0a" />
<circle cx="505.13" cy="2095.43" r="2.75" fill="#0a0a0a" />
<circle cx="498.53" cy="2100.51" r="2.75" fill="#0a0a0a" />
<circle cx="510.20" cy="2101.78" r="2.75" fill="#0a0a0a" />
<circle cx="504.37" cy="2104.31" r="2.75" fill="#0a0a0a" />
<circle cx="505.13" cy="2106.85" r="2.75" fill="#0a0a0a" />
<circle cx="498.53" cy="2115.74" r="2.75" fill="#0a0a0a" />
<circle cx="506.90" cy="2115.74" r="2.75" fill="#0a0a0a" />
<circle cx="504.37" cy="2119.54" r="2.75" fill="#0a0a0a" />
<circle cx="498.53" cy="2124.62" r="2.75" fill="#0a0a0a" />
<circle cx="510.20" cy="2123.86" r="2.75" fill="#0a0a0a" />
<circle cx="505.13" cy="2127.16" r="2.75" fill="#0a0a0a" />
<circle cx="498.53" cy="2129.70" r="2.75" fill="#0a0a0a" />
<circle cx="505.13" cy="2130.96" r="2.75" fill="#0a0a0a" />
<circle cx="505.13" cy="2143.65" r="2.75" fill="#0a0a0a" />
<circle cx="498.53" cy="2148.73" r="2.75" fill="#0a0a0a" />
<circle cx="505.13" cy="2149.49" r="2.75" fill="#0a0a0a" />
<circle cx="510.71" cy="2150.51" r="2.75" fill="#0a0a0a" />
<circle cx="501.83" cy="2153.81" r="2.75" fill="#0a0a0a" />
<circle cx="505.13" cy="2156.35" r="2.75" fill="#0a0a0a" />
<circle cx="498.53" cy="2162.69" r="2.75" fill="#0a0a0a" />
<circle cx="505.13" cy="2162.69" r="2.75" fill="#0a0a0a" />
<circle cx="498.53" cy="2172.84" r="2.75" fill="#0a0a0a" />
<circle cx="505.13" cy="2171.57" r="2.75" fill="#0a0a0a" />
<circle cx="511.47" cy="2172.84" r="2.75" fill="#0a0a0a" />
<circle cx="505.13" cy="2181.73" r="2.75" fill="#0a0a0a" />
<circle cx="498.53" cy="2185.53" r="2.75" fill="#0a0a0a" />
<circle cx="505.13" cy="2186.80" r="2.75" fill="#0a0a0a" />
<circle cx="498.53" cy="2191.88" r="2.75" fill="#0a0a0a" />
<circle cx="505.13" cy="2191.88" r="2.75" fill="#0a0a0a" />
<circle cx="505.13" cy="2208.38" r="2.75" fill="#0a0a0a" />
<circle cx="505.13" cy="2213.45" r="2.75" fill="#0a0a0a" />
<circle cx="516.55" cy="2217.77" r="2.75" fill="#0a0a0a" />
<circle cx="498.53" cy="2219.80" r="2.75" fill="#0a0a0a" />
<circle cx="510.20" cy="2218.53" r="2.75" fill="#0a0a0a" />
<circle cx="505.13" cy="2221.07" r="2.75" fill="#0a0a0a" />
<circle cx="496.75" cy="2237.56" r="2.75" fill="#0a0a0a" />
<circle cx="508.93" cy="2237.56" r="2.75" fill="#0a0a0a" />
<circle cx="505.13" cy="2241.37" r="2.75" fill="#0a0a0a" />
<circle cx="505.13" cy="2246.45" r="2.75" fill="#0a0a0a" />
<circle cx="505.13" cy="2251.52" r="2.75" fill="#0a0a0a" />
<circle cx="498.53" cy="2254.57" r="2.75" fill="#0a0a0a" />
<circle cx="505.13" cy="2256.60" r="2.75" fill="#0a0a0a" />
<circle cx="499.29" cy="2276.40" r="2.75" fill="#0a0a0a" />
<circle cx="510.71" cy="2275.63" r="2.75" fill="#0a0a0a" />
<circle cx="505.13" cy="2278.17" r="2.75" fill="#0a0a0a" />
<circle cx="501.83" cy="2283.25" r="2.75" fill="#0a0a0a" />
<circle cx="509.44" cy="2284.01" r="2.75" fill="#0a0a0a" />
<circle cx="505.13" cy="2288.32" r="2.75" fill="#0a0a0a" />
<circle cx="505.13" cy="2293.40" r="2.75" fill="#0a0a0a" />
<circle cx="498.53" cy="2303.55" r="2.75" fill="#0a0a0a" />
<circle cx="505.13" cy="2301.78" r="2.75" fill="#0a0a0a" />
<circle cx="505.13" cy="2306.09" r="2.75" fill="#0a0a0a" />
<circle cx="505.13" cy="2314.21" r="2.75" fill="#0a0a0a" />
<circle cx="505.13" cy="2328.17" r="2.75" fill="#0a0a0a" />
<circle cx="491.68" cy="2338.32" r="2.75" fill="#0a0a0a" />
<circle cx="498.53" cy="2339.09" r="2.75" fill="#0a0a0a" />
<circle cx="505.13" cy="2340.36" r="2.75" fill="#0a0a0a" />
<circle cx="510.20" cy="2339.85" r="2.75" fill="#0a0a0a" />
<circle cx="515.79" cy="2338.58" r="2.75" fill="#0a0a0a" />
<circle cx="498.53" cy="2344.67" r="2.75" fill="#0a0a0a" />
<circle cx="507.66" cy="2344.16" r="2.75" fill="#0a0a0a" />
<circle cx="505.13" cy="2347.97" r="2.75" fill="#0a0a0a" />
<circle cx="505.13" cy="2351.78" r="2.75" fill="#0a0a0a" />
<circle cx="508.93" cy="2369.54" r="2.75" fill="#0a0a0a" />
<circle cx="498.53" cy="2374.11" r="2.75" fill="#0a0a0a" />
<circle cx="504.37" cy="2373.35" r="2.75" fill="#0a0a0a" />
<circle cx="498.53" cy="2425.89" r="2.75" fill="#0a0a0a" />
<circle cx="505.13" cy="2425.89" r="2.75" fill="#0a0a0a" />
<circle cx="511.73" cy="2425.89" r="2.75" fill="#0a0a0a" />
<circle cx="663.00" cy="2426.20" r="2.75" fill="#0a0a0a" />
<circle cx="669.60" cy="2426.20" r="2.75" fill="#0a0a0a" />
<circle cx="676.20" cy="2426.20" r="2.75" fill="#0a0a0a" />
<circle cx="682.80" cy="2426.20" r="2.75" fill="#0a0a0a" />
<circle cx="689.40" cy="2426.20" r="2.75" fill="#0a0a0a" />
<circle cx="752.41" cy="2010.41" r="2.75" fill="#0a0a0a" />
<circle cx="752.41" cy="2078.93" r="2.75" fill="#0a0a0a" />
<circle cx="752.41" cy="2139.85" r="2.75" fill="#0a0a0a" />
<circle cx="752.41" cy="2155.84" r="2.75" fill="#0a0a0a" />
<circle cx="752.41" cy="2193.15" r="2.75" fill="#0a0a0a" />
<circle cx="752.41" cy="2330.71" r="2.75" fill="#0a0a0a" />
<circle cx="752.41" cy="2392.39" r="2.75" fill="#0a0a0a" />
<circle cx="821.83" cy="1946.95" r="2.75" fill="#0a0a0a" />
<circle cx="828.68" cy="1946.95" r="2.75" fill="#0a0a0a" />
<circle cx="828.68" cy="1993.91" r="2.75" fill="#0a0a0a" />
<circle cx="828.68" cy="2017.26" r="2.75" fill="#0a0a0a" />
<circle cx="828.68" cy="2034.52" r="2.75" fill="#0a0a0a" />
<circle cx="828.68" cy="2084.52" r="2.75" fill="#0a0a0a" />
<circle cx="823.60" cy="2094.92" r="2.75" fill="#0a0a0a" />
<circle cx="828.68" cy="2097.46" r="2.75" fill="#0a0a0a" />
<circle cx="828.68" cy="2106.09" r="2.75" fill="#0a0a0a" />
<circle cx="828.68" cy="2123.86" r="2.75" fill="#0a0a0a" />
<circle cx="828.68" cy="2143.65" r="2.75" fill="#0a0a0a" />
<circle cx="821.83" cy="2161.42" r="2.75" fill="#0a0a0a" />
<circle cx="828.68" cy="2161.42" r="2.75" fill="#0a0a0a" />
<circle cx="828.68" cy="2167.77" r="2.75" fill="#0a0a0a" />
<circle cx="828.68" cy="2175.38" r="2.75" fill="#0a0a0a" />
<circle cx="823.60" cy="2189.34" r="2.75" fill="#0a0a0a" />
<circle cx="828.68" cy="2192.39" r="2.75" fill="#0a0a0a" />
<circle cx="828.68" cy="2200.00" r="2.75" fill="#0a0a0a" />
<circle cx="828.68" cy="2207.11" r="2.75" fill="#0a0a0a" />
<circle cx="828.68" cy="2214.72" r="2.75" fill="#0a0a0a" />
<circle cx="828.68" cy="2232.49" r="2.75" fill="#0a0a0a" />
<circle cx="828.68" cy="2241.88" r="2.75" fill="#0a0a0a" />
<circle cx="828.68" cy="2260.66" r="2.75" fill="#0a0a0a" />
<circle cx="828.68" cy="2272.84" r="2.75" fill="#0a0a0a" />
<circle cx="828.68" cy="2286.55" r="2.75" fill="#0a0a0a" />
<circle cx="828.68" cy="2305.08" r="2.75" fill="#0a0a0a" />
<circle cx="828.68" cy="2322.59" r="2.75" fill="#0a0a0a" />
<circle cx="822.59" cy="2327.66" r="2.75" fill="#0a0a0a" />
<circle cx="828.68" cy="2329.44" r="2.75" fill="#0a0a0a" />
<circle cx="904.82" cy="2026.14" r="2.75" fill="#0a0a0a" />
<circle cx="904.82" cy="2072.59" r="2.75" fill="#0a0a0a" />
<circle cx="904.82" cy="2127.16" r="2.75" fill="#0a0a0a" />
<circle cx="904.82" cy="2191.88" r="2.75" fill="#0a0a0a" />
<circle cx="904.82" cy="2304.57" r="2.75" fill="#0a0a0a" />
<circle cx="904.82" cy="2359.64" r="2.75" fill="#0a0a0a" />
<circle cx="904.82" cy="2387.31" r="2.75" fill="#0a0a0a" />
<circle cx="986.29" cy="2016.50" r="2.75" fill="#0a0a0a" />
<circle cx="980.96" cy="2018.78" r="2.75" fill="#0a0a0a" />
<circle cx="980.96" cy="2035.03" r="2.75" fill="#0a0a0a" />
<circle cx="980.96" cy="2060.41" r="2.75" fill="#0a0a0a" />
<circle cx="980.96" cy="2065.48" r="2.75" fill="#0a0a0a" />
<circle cx="974.11" cy="2080.20" r="2.75" fill="#0a0a0a" />
<circle cx="980.96" cy="2080.20" r="2.75" fill="#0a0a0a" />
<circle cx="987.56" cy="2080.20" r="2.75" fill="#0a0a0a" />
<circle cx="980.96" cy="2087.82" r="2.75" fill="#0a0a0a" />
<circle cx="980.96" cy="2106.09" r="2.75" fill="#0a0a0a" />
<circle cx="980.96" cy="2115.74" r="2.75" fill="#0a0a0a" />
<circle cx="980.96" cy="2120.30" r="2.75" fill="#0a0a0a" />
<circle cx="980.96" cy="2124.87" r="2.75" fill="#0a0a0a" />
<circle cx="980.96" cy="2138.07" r="2.75" fill="#0a0a0a" />
<circle cx="987.56" cy="2138.07" r="2.75" fill="#0a0a0a" />
<circle cx="980.96" cy="2179.95" r="2.75" fill="#0a0a0a" />
<circle cx="977.41" cy="2194.42" r="2.75" fill="#0a0a0a" />
<circle cx="983.76" cy="2194.42" r="2.75" fill="#0a0a0a" />
<circle cx="980.96" cy="2196.95" r="2.75" fill="#0a0a0a" />
<circle cx="980.96" cy="2209.14" r="2.75" fill="#0a0a0a" />
<circle cx="980.96" cy="2214.21" r="2.75" fill="#0a0a0a" />
<circle cx="980.96" cy="2221.83" r="2.75" fill="#0a0a0a" />
<circle cx="974.87" cy="2229.95" r="2.75" fill="#0a0a0a" />
<circle cx="986.29" cy="2231.22" r="2.75" fill="#0a0a0a" />
<circle cx="980.96" cy="2233.76" r="2.75" fill="#0a0a0a" />
<circle cx="980.96" cy="2237.56" r="2.75" fill="#0a0a0a" />
<circle cx="980.96" cy="2241.37" r="2.75" fill="#0a0a0a" />
<circle cx="980.96" cy="2251.52" r="2.75" fill="#0a0a0a" />
<circle cx="980.96" cy="2257.87" r="2.75" fill="#0a0a0a" />
<circle cx="980.96" cy="2262.94" r="2.75" fill="#0a0a0a" />
<circle cx="980.96" cy="2268.02" r="2.75" fill="#0a0a0a" />
<circle cx="975.38" cy="2308.12" r="2.75" fill="#0a0a0a" />
<circle cx="980.96" cy="2309.90" r="2.75" fill="#0a0a0a" />
<circle cx="980.96" cy="2314.21" r="2.75" fill="#0a0a0a" />
<circle cx="980.96" cy="2320.81" r="2.75" fill="#0a0a0a" />
<circle cx="980.96" cy="2331.47" r="2.75" fill="#0a0a0a" />
<circle cx="980.96" cy="2344.16" r="2.75" fill="#0a0a0a" />
<circle cx="980.96" cy="2361.17" r="2.75" fill="#0a0a0a" />
<circle cx="980.96" cy="2367.01" r="2.75" fill="#0a0a0a" />
<circle cx="980.96" cy="2384.01" r="2.75" fill="#0a0a0a" />
<circle cx="986.29" cy="2393.65" r="2.75" fill="#0a0a0a" />
<circle cx="980.96" cy="2396.19" r="2.75" fill="#0a0a0a" />
<circle cx="974.11" cy="2420.30" r="2.75" fill="#0a0a0a" />
<circle cx="980.96" cy="2420.30" r="2.75" fill="#0a0a0a" />
<circle cx="712.70" cy="2426.20" r="2.75" fill="#0a0a0a" />
<circle cx="719.23" cy="2426.20" r="2.75" fill="#0a0a0a" />
<circle cx="725.77" cy="2426.20" r="2.75" fill="#0a0a0a" />
<circle cx="732.30" cy="2426.20" r="2.75" fill="#0a0a0a" />
<circle cx="738.84" cy="2426.20" r="2.75" fill="#0a0a0a" />
<circle cx="745.37" cy="2426.20" r="2.75" fill="#0a0a0a" />
<circle cx="751.90" cy="2426.20" r="2.75" fill="#0a0a0a" />
<circle cx="758.44" cy="2426.20" r="2.75" fill="#0a0a0a" />
<circle cx="764.97" cy="2426.20" r="2.75" fill="#0a0a0a" />
<circle cx="771.51" cy="2426.20" r="2.75" fill="#0a0a0a" />
<circle cx="778.04" cy="2426.20" r="2.75" fill="#0a0a0a" />
<circle cx="784.57" cy="2426.20" r="2.75" fill="#0a0a0a" />
<circle cx="791.11" cy="2426.20" r="2.75" fill="#0a0a0a" />
<circle cx="797.64" cy="2426.20" r="2.75" fill="#0a0a0a" />
<circle cx="804.18" cy="2426.20" r="2.75" fill="#0a0a0a" />
<circle cx="810.71" cy="2426.20" r="2.75" fill="#0a0a0a" />
<circle cx="817.24" cy="2426.20" r="2.75" fill="#0a0a0a" />
<circle cx="823.78" cy="2426.20" r="2.75" fill="#0a0a0a" />
<circle cx="830.31" cy="2426.20" r="2.75" fill="#0a0a0a" />
<circle cx="836.85" cy="2426.20" r="2.75" fill="#0a0a0a" />
<circle cx="843.38" cy="2426.20" r="2.75" fill="#0a0a0a" />
<circle cx="849.91" cy="2426.20" r="2.75" fill="#0a0a0a" />
<circle cx="856.45" cy="2426.20" r="2.75" fill="#0a0a0a" />
<circle cx="862.98" cy="2426.20" r="2.75" fill="#0a0a0a" />
<circle cx="869.52" cy="2426.20" r="2.75" fill="#0a0a0a" />
<circle cx="876.05" cy="2426.20" r="2.75" fill="#0a0a0a" />
<circle cx="882.59" cy="2426.20" r="2.75" fill="#0a0a0a" />
<circle cx="889.12" cy="2426.20" r="2.75" fill="#0a0a0a" />
<circle cx="895.65" cy="2426.20" r="2.75" fill="#0a0a0a" />
<circle cx="902.19" cy="2426.20" r="2.75" fill="#0a0a0a" />
<circle cx="908.72" cy="2426.20" r="2.75" fill="#0a0a0a" />
<circle cx="915.26" cy="2426.20" r="2.75" fill="#0a0a0a" />
<circle cx="921.79" cy="2426.20" r="2.75" fill="#0a0a0a" />
<circle cx="928.32" cy="2426.20" r="2.75" fill="#0a0a0a" />
<circle cx="934.86" cy="2426.20" r="2.75" fill="#0a0a0a" />
<circle cx="941.39" cy="2426.20" r="2.75" fill="#0a0a0a" />
<circle cx="947.93" cy="2426.20" r="2.75" fill="#0a0a0a" />
<circle cx="954.46" cy="2426.20" r="2.75" fill="#0a0a0a" />
<circle cx="960.99" cy="2426.20" r="2.75" fill="#0a0a0a" />
<circle cx="967.53" cy="2426.20" r="2.75" fill="#0a0a0a" />
<circle cx="974.06" cy="2426.20" r="2.75" fill="#0a0a0a" />
<circle cx="980.60" cy="2426.20" r="2.75" fill="#0a0a0a" />
<circle cx="987.13" cy="2426.20" r="2.75" fill="#0a0a0a" />
<circle cx="993.66" cy="2426.20" r="2.75" fill="#0a0a0a" />
<circle cx="1000.20" cy="2426.20" r="2.75" fill="#0a0a0a" />
<circle cx="1006.73" cy="2426.20" r="2.75" fill="#0a0a0a" />
<circle cx="1013.27" cy="2426.20" r="2.75" fill="#0a0a0a" />
<circle cx="1019.80" cy="2426.20" r="2.75" fill="#0a0a0a" />
<circle cx="1152.28" cy="2025.38" r="2.75" fill="#0a0a0a" />
<circle cx="1148.73" cy="2036.29" r="2.75" fill="#0a0a0a" />
<circle cx="1152.28" cy="2039.34" r="2.75" fill="#0a0a0a" />
<circle cx="1152.28" cy="2053.81" r="2.75" fill="#0a0a0a" />
<circle cx="1152.28" cy="2079.70" r="2.75" fill="#0a0a0a" />
<circle cx="1228.43" cy="1941.62" r="2.75" fill="#0a0a0a" />
<circle cx="1228.43" cy="1998.98" r="2.75" fill="#0a0a0a" />
<circle cx="1228.43" cy="2004.06" r="2.75" fill="#0a0a0a" />
<circle cx="1228.43" cy="2028.68" r="2.75" fill="#0a0a0a" />
<circle cx="1228.43" cy="2089.85" r="2.75" fill="#0a0a0a" />
<circle cx="1228.43" cy="2108.12" r="2.75" fill="#0a0a0a" />
<circle cx="1228.43" cy="2148.22" r="2.75" fill="#0a0a0a" />
<circle cx="1228.43" cy="2168.27" r="2.75" fill="#0a0a0a" />
<circle cx="1228.43" cy="2221.07" r="2.75" fill="#0a0a0a" />
<circle cx="1225.63" cy="2259.90" r="2.75" fill="#0a0a0a" />
<circle cx="1228.43" cy="2263.45" r="2.75" fill="#0a0a0a" />
<circle cx="1228.43" cy="2281.98" r="2.75" fill="#0a0a0a" />
<circle cx="1228.43" cy="2304.82" r="2.75" fill="#0a0a0a" />
<circle cx="1221.83" cy="2318.02" r="2.75" fill="#0a0a0a" />
<circle cx="1228.43" cy="2318.02" r="2.75" fill="#0a0a0a" />
<circle cx="1228.43" cy="2334.01" r="2.75" fill="#0a0a0a" />
<circle cx="1228.43" cy="2346.70" r="2.75" fill="#0a0a0a" />
<circle cx="1221.83" cy="2406.85" r="2.75" fill="#0a0a0a" />
<circle cx="1228.43" cy="2406.85" r="2.75" fill="#0a0a0a" />
<circle cx="1208.63" cy="2425.89" r="2.75" fill="#0a0a0a" />
<circle cx="1215.23" cy="2425.89" r="2.75" fill="#0a0a0a" />
<circle cx="1221.83" cy="2425.89" r="2.75" fill="#0a0a0a" />
<circle cx="1228.43" cy="2425.89" r="2.75" fill="#0a0a0a" />
<circle cx="1235.03" cy="2425.89" r="2.75" fill="#0a0a0a" />
<circle cx="1241.62" cy="2425.89" r="2.75" fill="#0a0a0a" />
<circle cx="1304.57" cy="2051.78" r="2.75" fill="#0a0a0a" />
<circle cx="1304.57" cy="2135.03" r="2.75" fill="#0a0a0a" />
<circle cx="1304.57" cy="2162.94" r="2.75" fill="#0a0a0a" />
<circle cx="1304.57" cy="2231.22" r="2.75" fill="#0a0a0a" />
<circle cx="1304.57" cy="2235.03" r="2.75" fill="#0a0a0a" />
<circle cx="1304.57" cy="2258.38" r="2.75" fill="#0a0a0a" />
<circle cx="1304.57" cy="2282.74" r="2.75" fill="#0a0a0a" />
<circle cx="1304.57" cy="2295.43" r="2.75" fill="#0a0a0a" />
<circle cx="1304.57" cy="2299.75" r="2.75" fill="#0a0a0a" />
<circle cx="1304.57" cy="2303.55" r="2.75" fill="#0a0a0a" />
<circle cx="1304.57" cy="2308.63" r="2.75" fill="#0a0a0a" />
<circle cx="1300.51" cy="2312.44" r="2.75" fill="#0a0a0a" />
<circle cx="1304.57" cy="2316.24" r="2.75" fill="#0a0a0a" />
<circle cx="1297.97" cy="2331.47" r="2.75" fill="#0a0a0a" />
<circle cx="1304.57" cy="2331.47" r="2.75" fill="#0a0a0a" />
<circle cx="1310.66" cy="2331.47" r="2.75" fill="#0a0a0a" />
<circle cx="1297.97" cy="2358.12" r="2.75" fill="#0a0a0a" />
<circle cx="1304.57" cy="2358.12" r="2.75" fill="#0a0a0a" />
<circle cx="1294.16" cy="2374.62" r="2.75" fill="#0a0a0a" />
<circle cx="1297.97" cy="2377.16" r="2.75" fill="#0a0a0a" />
<circle cx="1304.57" cy="2372.08" r="2.75" fill="#0a0a0a" />
<circle cx="1310.66" cy="2372.08" r="2.75" fill="#0a0a0a" />
<circle cx="1304.57" cy="2379.70" r="2.75" fill="#0a0a0a" />
<circle cx="1310.66" cy="2377.16" r="2.75" fill="#0a0a0a" />
<circle cx="1304.57" cy="2383.50" r="2.75" fill="#0a0a0a" />
<circle cx="1297.97" cy="2393.65" r="2.75" fill="#0a0a0a" />
<circle cx="1304.57" cy="2393.65" r="2.75" fill="#0a0a0a" />
<circle cx="1304.57" cy="2401.27" r="2.75" fill="#0a0a0a" />
<circle cx="1297.97" cy="2403.81" r="2.75" fill="#0a0a0a" />
<circle cx="1304.57" cy="2405.08" r="2.75" fill="#0a0a0a" />
<circle cx="1310.66" cy="2403.81" r="2.75" fill="#0a0a0a" />
<circle cx="1317.77" cy="2403.81" r="2.75" fill="#0a0a0a" />
<circle cx="1304.57" cy="2410.15" r="2.75" fill="#0a0a0a" />
<circle cx="1300.51" cy="2410.66" r="2.75" fill="#0a0a0a" />
<circle cx="1304.57" cy="2415.23" r="2.75" fill="#0a0a0a" />
<circle cx="1304.57" cy="2419.04" r="2.75" fill="#0a0a0a" />
<circle cx="1289.09" cy="2420.30" r="2.75" fill="#0a0a0a" />
<circle cx="1294.16" cy="2421.57" r="2.75" fill="#0a0a0a" />
<circle cx="1300.51" cy="2422.84" r="2.75" fill="#0a0a0a" />
<circle cx="1304.57" cy="2422.84" r="2.75" fill="#0a0a0a" />
<circle cx="1308.12" cy="2421.57" r="2.75" fill="#0a0a0a" />
<circle cx="1314.47" cy="2421.57" r="2.75" fill="#0a0a0a" />
<circle cx="1320.30" cy="2420.30" r="2.75" fill="#0a0a0a" />
<circle cx="1266.00" cy="2426.20" r="2.75" fill="#0a0a0a" />
<circle cx="1272.33" cy="2426.20" r="2.75" fill="#0a0a0a" />
<circle cx="1278.67" cy="2426.20" r="2.75" fill="#0a0a0a" />
<circle cx="1285.00" cy="2426.20" r="2.75" fill="#0a0a0a" />
<circle cx="1291.33" cy="2426.20" r="2.75" fill="#0a0a0a" />
<circle cx="1297.67" cy="2426.20" r="2.75" fill="#0a0a0a" />
<circle cx="1304.00" cy="2426.20" r="2.75" fill="#0a0a0a" />
<circle cx="1310.33" cy="2426.20" r="2.75" fill="#0a0a0a" />
<circle cx="1316.67" cy="2426.20" r="2.75" fill="#0a0a0a" />
<circle cx="1323.00" cy="2426.20" r="2.75" fill="#0a0a0a" />
<circle cx="1329.33" cy="2426.20" r="2.75" fill="#0a0a0a" />
<circle cx="1335.67" cy="2426.20" r="2.75" fill="#0a0a0a" />
<circle cx="1342.00" cy="2426.20" r="2.75" fill="#0a0a0a" />
<circle cx="1380.46" cy="2028.93" r="2.75" fill="#0a0a0a" />
<circle cx="1375.38" cy="2047.97" r="2.75" fill="#0a0a0a" />
<circle cx="1380.46" cy="2051.52" r="2.75" fill="#0a0a0a" />
<circle cx="1380.46" cy="2084.01" r="2.75" fill="#0a0a0a" />
<circle cx="1380.46" cy="2110.66" r="2.75" fill="#0a0a0a" />
<circle cx="1380.46" cy="2179.19" r="2.75" fill="#0a0a0a" />
<circle cx="1380.46" cy="2191.88" r="2.75" fill="#0a0a0a" />
<circle cx="1380.46" cy="2208.38" r="2.75" fill="#0a0a0a" />
<circle cx="1380.46" cy="2215.99" r="2.75" fill="#0a0a0a" />
<circle cx="1380.46" cy="2241.37" r="2.75" fill="#0a0a0a" />
<circle cx="1380.46" cy="2305.58" r="2.75" fill="#0a0a0a" />
<circle cx="1380.46" cy="2351.02" r="2.75" fill="#0a0a0a" />
<circle cx="1380.46" cy="2365.74" r="2.75" fill="#0a0a0a" />
<circle cx="1375.38" cy="2377.66" r="2.75" fill="#0a0a0a" />
<circle cx="1380.46" cy="2378.43" r="2.75" fill="#0a0a0a" />
<circle cx="1380.46" cy="2387.31" r="2.75" fill="#0a0a0a" />
<circle cx="1374.11" cy="2399.49" r="2.75" fill="#0a0a0a" />
<circle cx="1380.46" cy="2401.27" r="2.75" fill="#0a0a0a" />
<circle cx="1380.46" cy="2407.61" r="2.75" fill="#0a0a0a" />
<circle cx="1374.11" cy="2412.69" r="2.75" fill="#0a0a0a" />
<circle cx="1380.46" cy="2413.96" r="2.75" fill="#0a0a0a" />
<circle cx="1374.11" cy="2420.30" r="2.75" fill="#0a0a0a" />
<circle cx="1380.46" cy="2420.30" r="2.75" fill="#0a0a0a" />
<circle cx="1367.77" cy="2425.89" r="2.75" fill="#0a0a0a" />
<circle cx="1374.11" cy="2425.89" r="2.75" fill="#0a0a0a" />
<circle cx="1380.46" cy="2425.89" r="2.75" fill="#0a0a0a" />
<circle cx="1386.80" cy="2425.89" r="2.75" fill="#0a0a0a" />
<circle cx="1456.60" cy="2034.52" r="2.75" fill="#0a0a0a" />
<circle cx="1456.60" cy="2054.31" r="2.75" fill="#0a0a0a" />
<circle cx="1452.79" cy="2091.62" r="2.75" fill="#0a0a0a" />
<circle cx="1458.38" cy="2089.09" r="2.75" fill="#0a0a0a" />
<circle cx="1456.60" cy="2094.16" r="2.75" fill="#0a0a0a" />
<circle cx="1456.60" cy="2100.51" r="2.75" fill="#0a0a0a" />
<circle cx="1456.60" cy="2117.77" r="2.75" fill="#0a0a0a" />
<circle cx="1456.60" cy="2123.35" r="2.75" fill="#0a0a0a" />
<circle cx="1456.60" cy="2128.43" r="2.75" fill="#0a0a0a" />
<circle cx="1456.60" cy="2133.50" r="2.75" fill="#0a0a0a" />
<circle cx="1456.60" cy="2138.58" r="2.75" fill="#0a0a0a" />
<circle cx="1456.60" cy="2143.15" r="2.75" fill="#0a0a0a" />
<circle cx="1456.60" cy="2154.57" r="2.75" fill="#0a0a0a" />
<circle cx="1456.60" cy="2188.58" r="2.75" fill="#0a0a0a" />
<circle cx="1456.60" cy="2205.84" r="2.75" fill="#0a0a0a" />
<circle cx="1456.60" cy="2217.26" r="2.75" fill="#0a0a0a" />
<circle cx="1456.60" cy="2224.87" r="2.75" fill="#0a0a0a" />
<circle cx="1453.30" cy="2228.68" r="2.75" fill="#0a0a0a" />
<circle cx="1456.60" cy="2231.73" r="2.75" fill="#0a0a0a" />
<circle cx="1451.02" cy="2239.59" r="2.75" fill="#0a0a0a" />
<circle cx="1456.60" cy="2241.88" r="2.75" fill="#0a0a0a" />
<circle cx="1456.60" cy="2253.30" r="2.75" fill="#0a0a0a" />
<circle cx="1450.25" cy="2264.21" r="2.75" fill="#0a0a0a" />
<circle cx="1456.60" cy="2264.21" r="2.75" fill="#0a0a0a" />
<circle cx="1450.25" cy="2268.02" r="2.75" fill="#0a0a0a" />
<circle cx="1456.60" cy="2268.02" r="2.75" fill="#0a0a0a" />
<circle cx="1451.02" cy="2290.10" r="2.75" fill="#0a0a0a" />
<circle cx="1456.60" cy="2292.13" r="2.75" fill="#0a0a0a" />
<circle cx="1460.91" cy="2288.83" r="2.75" fill="#0a0a0a" />
<circle cx="1456.60" cy="2303.05" r="2.75" fill="#0a0a0a" />
<circle cx="1456.60" cy="2308.63" r="2.75" fill="#0a0a0a" />
<circle cx="1451.02" cy="2314.21" r="2.75" fill="#0a0a0a" />
<circle cx="1456.60" cy="2316.24" r="2.75" fill="#0a0a0a" />
<circle cx="1456.60" cy="2328.93" r="2.75" fill="#0a0a0a" />
<circle cx="1450.25" cy="2334.01" r="2.75" fill="#0a0a0a" />
<circle cx="1456.60" cy="2337.82" r="2.75" fill="#0a0a0a" />
<circle cx="1450.25" cy="2344.16" r="2.75" fill="#0a0a0a" />
<circle cx="1456.60" cy="2341.62" r="2.75" fill="#0a0a0a" />
<circle cx="1460.91" cy="2344.67" r="2.75" fill="#0a0a0a" />
<circle cx="1450.25" cy="2347.21" r="2.75" fill="#0a0a0a" />
<circle cx="1456.60" cy="2351.78" r="2.75" fill="#0a0a0a" />
<circle cx="1456.60" cy="2358.12" r="2.75" fill="#0a0a0a" />
<circle cx="1456.60" cy="2364.47" r="2.75" fill="#0a0a0a" />
<circle cx="1456.60" cy="2372.08" r="2.75" fill="#0a0a0a" />
<circle cx="1450.25" cy="2382.23" r="2.75" fill="#0a0a0a" />
<circle cx="1456.60" cy="2383.50" r="2.75" fill="#0a0a0a" />
<circle cx="1463.45" cy="2382.23" r="2.75" fill="#0a0a0a" />
<circle cx="1450.25" cy="2387.31" r="2.75" fill="#0a0a0a" />
<circle cx="1456.60" cy="2388.58" r="2.75" fill="#0a0a0a" />
<circle cx="1450.25" cy="2393.65" r="2.75" fill="#0a0a0a" />
<circle cx="1456.60" cy="2394.92" r="2.75" fill="#0a0a0a" />
<circle cx="1460.91" cy="2397.46" r="2.75" fill="#0a0a0a" />
<circle cx="1450.25" cy="2401.27" r="2.75" fill="#0a0a0a" />
<circle cx="1456.60" cy="2403.81" r="2.75" fill="#0a0a0a" />
<circle cx="1460.91" cy="2403.81" r="2.75" fill="#0a0a0a" />
<circle cx="1450.25" cy="2407.61" r="2.75" fill="#0a0a0a" />
<circle cx="1456.60" cy="2408.88" r="2.75" fill="#0a0a0a" />
<circle cx="1450.25" cy="2415.23" r="2.75" fill="#0a0a0a" />
<circle cx="1456.60" cy="2416.50" r="2.75" fill="#0a0a0a" />
<circle cx="1460.91" cy="2415.74" r="2.75" fill="#0a0a0a" />
<circle cx="1453.30" cy="2420.30" r="2.75" fill="#0a0a0a" />
<circle cx="1456.60" cy="2422.84" r="2.75" fill="#0a0a0a" />
<circle cx="1418.50" cy="2426.20" r="2.75" fill="#0a0a0a" />
<circle cx="1424.85" cy="2426.20" r="2.75" fill="#0a0a0a" />
<circle cx="1431.20" cy="2426.20" r="2.75" fill="#0a0a0a" />
<circle cx="1437.55" cy="2426.20" r="2.75" fill="#0a0a0a" />
<circle cx="1443.90" cy="2426.20" r="2.75" fill="#0a0a0a" />
<circle cx="1450.25" cy="2426.20" r="2.75" fill="#0a0a0a" />
<circle cx="1456.60" cy="2426.20" r="2.75" fill="#0a0a0a" />
<circle cx="1462.95" cy="2426.20" r="2.75" fill="#0a0a0a" />
<circle cx="1469.30" cy="2426.20" r="2.75" fill="#0a0a0a" />
<circle cx="1475.65" cy="2426.20" r="2.75" fill="#0a0a0a" />
<circle cx="1482.00" cy="2426.20" r="2.75" fill="#0a0a0a" />
<circle cx="1488.35" cy="2426.20" r="2.75" fill="#0a0a0a" />
<circle cx="1494.70" cy="2426.20" r="2.75" fill="#0a0a0a" />
</svg>
</body></html>
